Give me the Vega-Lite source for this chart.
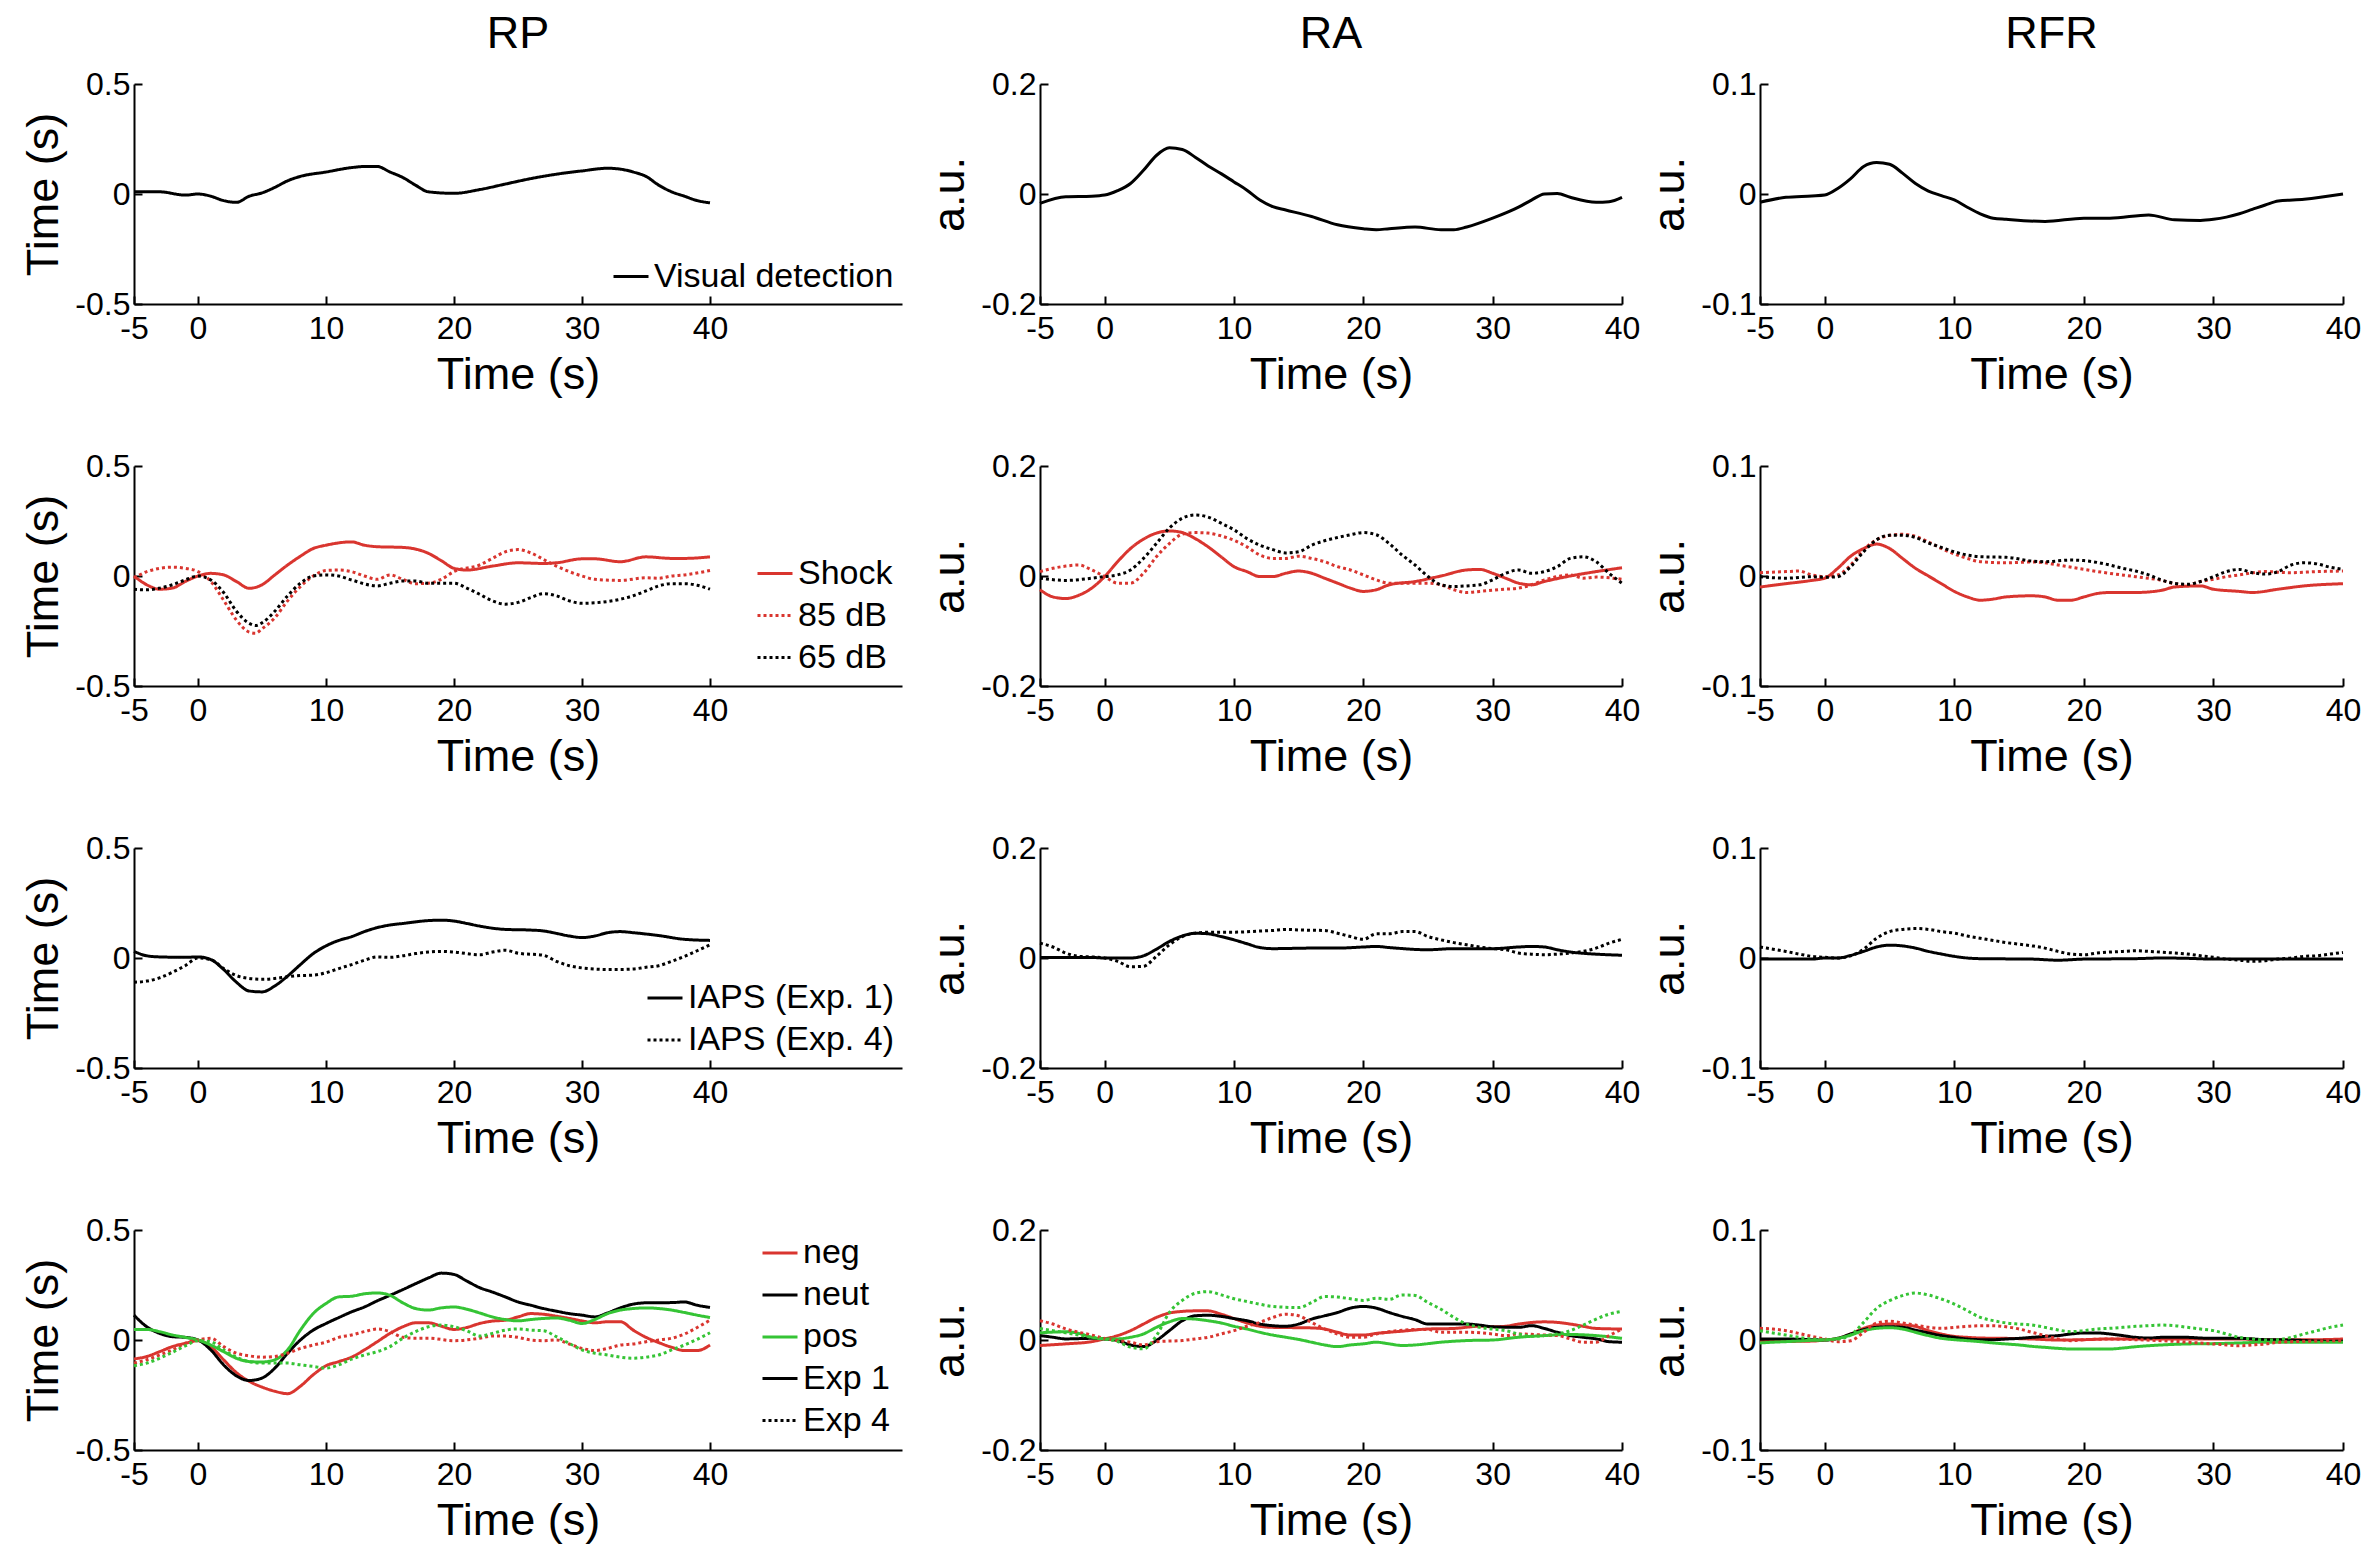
{
"$schema":"https://vega.github.io/schema/vega-lite/v6.json",
"background":"white",
"padding":{"left":21,"top":12,"right":5,"bottom":5},
"config":{
"font":"Liberation Sans",
"view":{"stroke":null},
"title":{"fontSize":45,"fontWeight":"normal","color":"black","font":"Liberation Sans","anchor":"middle","frame":"group","offset":11},
"axis":{"grid":false,"domainColor":"black","domainWidth":2,"tickColor":"black","tickWidth":2,"tickSize":-8,"labelFontSize":32,"labelColor":"black","labelFont":"Liberation Sans","titleFont":"Liberation Sans","titleFontSize":45,"titleFontWeight":"normal","titleColor":"black","labelPadding":12,"titlePadding":8,"labelFlush":false,"labelOverlap":false},
"axisX":{"labelPadding":17},
"legend":{"symbolType":"stroke","symbolSize":1225,"symbolStrokeWidth":3,"labelFontSize":34,"labelColor":"black","labelFont":"Liberation Sans","padding":0,"rowPadding":6,"labelOffset":4,"labelLimit":0},
"line":{"strokeWidth":3,"interpolate":"monotone"}
},
"columns":3,
"spacing":{"row":162,"column":138},
"bounds":"flush",
"resolve":{"scale":{"x":"independent","y":"independent","color":"independent","strokeDash":"independent"},"legend":{"color":"independent","strokeDash":"independent"}},
"datasets":{
"rp1":[{"s":"Visual detection","t":-5,"v":0.01},{"s":"Visual detection","t":-3,"v":0.01},{"s":"Visual detection","t":-1,"v":-0.005},{"s":"Visual detection","t":0,"v":0},{"s":"Visual detection","t":1,"v":-0.01},{"s":"Visual detection","t":2,"v":-0.03},{"s":"Visual detection","t":3,"v":-0.038},{"s":"Visual detection","t":4,"v":-0.01},{"s":"Visual detection","t":5,"v":0.005},{"s":"Visual detection","t":6,"v":0.03},{"s":"Visual detection","t":7,"v":0.06},{"s":"Visual detection","t":8,"v":0.08},{"s":"Visual detection","t":10,"v":0.1},{"s":"Visual detection","t":12,"v":0.12},{"s":"Visual detection","t":13,"v":0.125},{"s":"Visual detection","t":14,"v":0.125},{"s":"Visual detection","t":15,"v":0.1},{"s":"Visual detection","t":16,"v":0.075},{"s":"Visual detection","t":17,"v":0.04},{"s":"Visual detection","t":18,"v":0.01},{"s":"Visual detection","t":20,"v":0.003},{"s":"Visual detection","t":22,"v":0.02},{"s":"Visual detection","t":24,"v":0.045},{"s":"Visual detection","t":26,"v":0.07},{"s":"Visual detection","t":28,"v":0.09},{"s":"Visual detection","t":30,"v":0.105},{"s":"Visual detection","t":32,"v":0.117},{"s":"Visual detection","t":33,"v":0.113},{"s":"Visual detection","t":34,"v":0.1},{"s":"Visual detection","t":35,"v":0.08},{"s":"Visual detection","t":36,"v":0.04},{"s":"Visual detection","t":37,"v":0.01},{"s":"Visual detection","t":38,"v":-0.01},{"s":"Visual detection","t":39,"v":-0.03},{"s":"Visual detection","t":40,"v":-0.04}],
"ra1":[{"t":-5,"v":-0.017},{"t":-3,"v":-0.005},{"t":-1,"v":-0.004},{"t":0,"v":-0.002},{"t":1,"v":0.006},{"t":2,"v":0.019},{"t":3,"v":0.043},{"t":4,"v":0.07},{"t":5,"v":0.084},{"t":6,"v":0.081},{"t":7,"v":0.067},{"t":8,"v":0.051},{"t":9,"v":0.037},{"t":10,"v":0.022},{"t":11,"v":0.007},{"t":12,"v":-0.011},{"t":13,"v":-0.023},{"t":14,"v":-0.029},{"t":16,"v":-0.041},{"t":18,"v":-0.056},{"t":20,"v":-0.063},{"t":21,"v":-0.065},{"t":22,"v":-0.063},{"t":24,"v":-0.06},{"t":26,"v":-0.065},{"t":27,"v":-0.065},{"t":28,"v":-0.06},{"t":30,"v":-0.044},{"t":32,"v":-0.024},{"t":33,"v":-0.011},{"t":34,"v":0},{"t":35,"v":0.001},{"t":36,"v":-0.006},{"t":38,"v":-0.015},{"t":39,"v":-0.014},{"t":40,"v":-0.006}],
"rfr1":[{"t":-5,"v":-0.0075},{"t":-3,"v":-0.003},{"t":-1,"v":-0.0018},{"t":0,"v":-0.001},{"t":1,"v":0.005},{"t":2,"v":0.014},{"t":3,"v":0.025},{"t":4,"v":0.0286},{"t":5,"v":0.027},{"t":6,"v":0.019},{"t":7,"v":0.0096},{"t":8,"v":0.0027},{"t":9,"v":-0.0015},{"t":10,"v":-0.0054},{"t":11,"v":-0.012},{"t":12,"v":-0.018},{"t":13,"v":-0.022},{"t":14,"v":-0.023},{"t":17,"v":-0.025},{"t":20,"v":-0.022},{"t":22,"v":-0.022},{"t":25,"v":-0.019},{"t":27,"v":-0.0235},{"t":29,"v":-0.024},{"t":30,"v":-0.023},{"t":31,"v":-0.021},{"t":32,"v":-0.018},{"t":33,"v":-0.014},{"t":34,"v":-0.01},{"t":35,"v":-0.0063},{"t":37,"v":-0.0048},{"t":40,"v":0}],
"rp2":[
{"s":"Shock","t":-5,"v":0},{"s":"Shock","t":-4,"v":-0.04},{"s":"Shock","t":-3,"v":-0.06},{"s":"Shock","t":-2,"v":-0.055},{"s":"Shock","t":-1,"v":-0.025},{"s":"Shock","t":0,"v":0},{"s":"Shock","t":1,"v":0.012},{"s":"Shock","t":2,"v":0.005},{"s":"Shock","t":3,"v":-0.025},{"s":"Shock","t":4,"v":-0.056},{"s":"Shock","t":5,"v":-0.04},{"s":"Shock","t":6,"v":0.005},{"s":"Shock","t":7,"v":0.05},{"s":"Shock","t":8,"v":0.09},{"s":"Shock","t":9,"v":0.125},{"s":"Shock","t":10,"v":0.14},{"s":"Shock","t":12,"v":0.155},{"s":"Shock","t":13,"v":0.14},{"s":"Shock","t":14,"v":0.133},{"s":"Shock","t":16,"v":0.13},{"s":"Shock","t":18,"v":0.103},{"s":"Shock","t":19,"v":0.07},{"s":"Shock","t":20,"v":0.035},{"s":"Shock","t":21,"v":0.027},{"s":"Shock","t":23,"v":0.045},{"s":"Shock","t":25,"v":0.06},{"s":"Shock","t":27,"v":0.057},{"s":"Shock","t":28,"v":0.06},{"s":"Shock","t":30,"v":0.078},{"s":"Shock","t":31,"v":0.078},{"s":"Shock","t":33,"v":0.065},{"s":"Shock","t":35,"v":0.087},{"s":"Shock","t":37,"v":0.08},{"s":"Shock","t":38,"v":0.08},{"s":"Shock","t":40,"v":0.087},
{"s":"85 dB","t":-5,"v":-0.01},{"s":"85 dB","t":-4,"v":0.02},{"s":"85 dB","t":-2,"v":0.04},{"s":"85 dB","t":-1,"v":0.035},{"s":"85 dB","t":0,"v":0.02},{"s":"85 dB","t":1,"v":-0.025},{"s":"85 dB","t":2,"v":-0.11},{"s":"85 dB","t":3,"v":-0.2},{"s":"85 dB","t":4,"v":-0.255},{"s":"85 dB","t":4.5,"v":-0.26},{"s":"85 dB","t":5,"v":-0.24},{"s":"85 dB","t":6,"v":-0.19},{"s":"85 dB","t":7,"v":-0.113},{"s":"85 dB","t":8,"v":-0.048},{"s":"85 dB","t":9,"v":0},{"s":"85 dB","t":10,"v":0.025},{"s":"85 dB","t":11,"v":0.027},{"s":"85 dB","t":12,"v":0.02},{"s":"85 dB","t":13,"v":0},{"s":"85 dB","t":14,"v":-0.015},{"s":"85 dB","t":15,"v":0.005},{"s":"85 dB","t":16,"v":-0.015},{"s":"85 dB","t":17,"v":-0.035},{"s":"85 dB","t":18,"v":-0.033},{"s":"85 dB","t":19,"v":-0.015},{"s":"85 dB","t":20,"v":0.02},{"s":"85 dB","t":22,"v":0.05},{"s":"85 dB","t":23,"v":0.08},{"s":"85 dB","t":24,"v":0.11},{"s":"85 dB","t":25,"v":0.12},{"s":"85 dB","t":26,"v":0.105},{"s":"85 dB","t":27,"v":0.075},{"s":"85 dB","t":28,"v":0.045},{"s":"85 dB","t":29,"v":0.02},{"s":"85 dB","t":30,"v":0},{"s":"85 dB","t":31,"v":-0.015},{"s":"85 dB","t":33,"v":-0.02},{"s":"85 dB","t":35,"v":-0.008},{"s":"85 dB","t":36,"v":-0.01},{"s":"85 dB","t":37,"v":0},{"s":"85 dB","t":38,"v":0.005},{"s":"85 dB","t":40,"v":0.025},
{"s":"65 dB","t":-5,"v":-0.06},{"s":"65 dB","t":-4,"v":-0.063},{"s":"65 dB","t":-3,"v":-0.055},{"s":"65 dB","t":-2,"v":-0.04},{"s":"65 dB","t":-1,"v":-0.018},{"s":"65 dB","t":0,"v":0},{"s":"65 dB","t":1,"v":-0.018},{"s":"65 dB","t":2,"v":-0.075},{"s":"65 dB","t":3,"v":-0.16},{"s":"65 dB","t":4,"v":-0.215},{"s":"65 dB","t":4.5,"v":-0.225},{"s":"65 dB","t":5,"v":-0.213},{"s":"65 dB","t":6,"v":-0.16},{"s":"65 dB","t":7,"v":-0.09},{"s":"65 dB","t":8,"v":-0.033},{"s":"65 dB","t":9,"v":0},{"s":"65 dB","t":10,"v":0.005},{"s":"65 dB","t":11,"v":0},{"s":"65 dB","t":12,"v":-0.018},{"s":"65 dB","t":14,"v":-0.045},{"s":"65 dB","t":15,"v":-0.033},{"s":"65 dB","t":16,"v":-0.023},{"s":"65 dB","t":17,"v":-0.023},{"s":"65 dB","t":18,"v":-0.033},{"s":"65 dB","t":20,"v":-0.033},{"s":"65 dB","t":21,"v":-0.055},{"s":"65 dB","t":22,"v":-0.083},{"s":"65 dB","t":23,"v":-0.113},{"s":"65 dB","t":24,"v":-0.128},{"s":"65 dB","t":25,"v":-0.12},{"s":"65 dB","t":26,"v":-0.098},{"s":"65 dB","t":27,"v":-0.08},{"s":"65 dB","t":28,"v":-0.09},{"s":"65 dB","t":29,"v":-0.113},{"s":"65 dB","t":30,"v":-0.124},{"s":"65 dB","t":32,"v":-0.116},{"s":"65 dB","t":34,"v":-0.09},{"s":"65 dB","t":35,"v":-0.068},{"s":"65 dB","t":36,"v":-0.045},{"s":"65 dB","t":37,"v":-0.035},{"s":"65 dB","t":38,"v":-0.035},{"s":"65 dB","t":39,"v":-0.042},{"s":"65 dB","t":40,"v":-0.06}],
"ra2":[
{"s":"Shock","t":-5,"v":-0.025},{"s":"Shock","t":-4,"v":-0.038},{"s":"Shock","t":-3,"v":-0.041},{"s":"Shock","t":-2,"v":-0.035},{"s":"Shock","t":-1,"v":-0.022},{"s":"Shock","t":0,"v":-0.001},{"s":"Shock","t":1,"v":0.026},{"s":"Shock","t":2,"v":0.05},{"s":"Shock","t":3,"v":0.067},{"s":"Shock","t":4,"v":0.078},{"s":"Shock","t":5,"v":0.082},{"s":"Shock","t":6,"v":0.079},{"s":"Shock","t":7,"v":0.068},{"s":"Shock","t":8,"v":0.053},{"s":"Shock","t":9,"v":0.035},{"s":"Shock","t":10,"v":0.017},{"s":"Shock","t":11,"v":0.008},{"s":"Shock","t":12,"v":-0.001},{"s":"Shock","t":13,"v":-0.001},{"s":"Shock","t":14,"v":0.005},{"s":"Shock","t":15,"v":0.009},{"s":"Shock","t":16,"v":0.005},{"s":"Shock","t":17,"v":-0.004},{"s":"Shock","t":18,"v":-0.013},{"s":"Shock","t":19,"v":-0.022},{"s":"Shock","t":20,"v":-0.028},{"s":"Shock","t":21,"v":-0.025},{"s":"Shock","t":22,"v":-0.016},{"s":"Shock","t":24,"v":-0.01},{"s":"Shock","t":26,"v":0},{"s":"Shock","t":28,"v":0.011},{"s":"Shock","t":29,"v":0.012},{"s":"Shock","t":30,"v":0.005},{"s":"Shock","t":31,"v":-0.004},{"s":"Shock","t":32,"v":-0.013},{"s":"Shock","t":33,"v":-0.016},{"s":"Shock","t":34,"v":-0.01},{"s":"Shock","t":36,"v":0},{"s":"Shock","t":38,"v":0.008},{"s":"Shock","t":40,"v":0.015},
{"s":"85 dB","t":-5,"v":0.008},{"s":"85 dB","t":-4,"v":0.014},{"s":"85 dB","t":-3,"v":0.018},{"s":"85 dB","t":-2,"v":0.02},{"s":"85 dB","t":-1,"v":0.011},{"s":"85 dB","t":0,"v":-0.001},{"s":"85 dB","t":1,"v":-0.013},{"s":"85 dB","t":2,"v":-0.013},{"s":"85 dB","t":3,"v":0.005},{"s":"85 dB","t":4,"v":0.035},{"s":"85 dB","t":5,"v":0.059},{"s":"85 dB","t":6,"v":0.076},{"s":"85 dB","t":7,"v":0.079},{"s":"85 dB","t":8,"v":0.078},{"s":"85 dB","t":9,"v":0.073},{"s":"85 dB","t":10,"v":0.065},{"s":"85 dB","t":11,"v":0.053},{"s":"85 dB","t":12,"v":0.038},{"s":"85 dB","t":13,"v":0.032},{"s":"85 dB","t":14,"v":0.032},{"s":"85 dB","t":15,"v":0.036},{"s":"85 dB","t":16,"v":0.032},{"s":"85 dB","t":17,"v":0.026},{"s":"85 dB","t":18,"v":0.017},{"s":"85 dB","t":19,"v":0.011},{"s":"85 dB","t":20,"v":0.002},{"s":"85 dB","t":21,"v":-0.007},{"s":"85 dB","t":22,"v":-0.013},{"s":"85 dB","t":25,"v":-0.013},{"s":"85 dB","t":26,"v":-0.016},{"s":"85 dB","t":27,"v":-0.025},{"s":"85 dB","t":28,"v":-0.03},{"s":"85 dB","t":29,"v":-0.028},{"s":"85 dB","t":31,"v":-0.024},{"s":"85 dB","t":32,"v":-0.022},{"s":"85 dB","t":33,"v":-0.016},{"s":"85 dB","t":34,"v":-0.007},{"s":"85 dB","t":35,"v":-0.001},{"s":"85 dB","t":36,"v":0.002},{"s":"85 dB","t":37,"v":-0.004},{"s":"85 dB","t":38,"v":-0.002},{"s":"85 dB","t":40,"v":-0.006},
{"s":"65 dB","t":-5,"v":-0.004},{"s":"65 dB","t":-3,"v":-0.008},{"s":"65 dB","t":-1,"v":-0.004},{"s":"65 dB","t":0,"v":-0.001},{"s":"65 dB","t":1,"v":0.002},{"s":"65 dB","t":2,"v":0.011},{"s":"65 dB","t":3,"v":0.032},{"s":"65 dB","t":4,"v":0.059},{"s":"65 dB","t":5,"v":0.087},{"s":"65 dB","t":6,"v":0.105},{"s":"65 dB","t":7,"v":0.111},{"s":"65 dB","t":8,"v":0.107},{"s":"65 dB","t":9,"v":0.096},{"s":"65 dB","t":10,"v":0.084},{"s":"65 dB","t":11,"v":0.068},{"s":"65 dB","t":12,"v":0.056},{"s":"65 dB","t":13,"v":0.048},{"s":"65 dB","t":14,"v":0.042},{"s":"65 dB","t":15,"v":0.044},{"s":"65 dB","t":16,"v":0.056},{"s":"65 dB","t":17,"v":0.064},{"s":"65 dB","t":18,"v":0.07},{"s":"65 dB","t":19,"v":0.075},{"s":"65 dB","t":20,"v":0.079},{"s":"65 dB","t":21,"v":0.075},{"s":"65 dB","t":22,"v":0.059},{"s":"65 dB","t":23,"v":0.038},{"s":"65 dB","t":24,"v":0.02},{"s":"65 dB","t":25,"v":-0.001},{"s":"65 dB","t":26,"v":-0.016},{"s":"65 dB","t":27,"v":-0.019},{"s":"65 dB","t":28,"v":-0.018},{"s":"65 dB","t":29,"v":-0.016},{"s":"65 dB","t":30,"v":-0.007},{"s":"65 dB","t":31,"v":0.005},{"s":"65 dB","t":32,"v":0.011},{"s":"65 dB","t":33,"v":0.005},{"s":"65 dB","t":34,"v":0.008},{"s":"65 dB","t":35,"v":0.017},{"s":"65 dB","t":36,"v":0.032},{"s":"65 dB","t":37,"v":0.035},{"s":"65 dB","t":38,"v":0.026},{"s":"65 dB","t":39,"v":0.005},{"s":"65 dB","t":40,"v":-0.013}],
"rfr2":[
{"s":"Shock","t":-5,"v":-0.01},{"s":"Shock","t":-3,"v":-0.007},{"s":"Shock","t":-1,"v":-0.004},{"s":"Shock","t":0,"v":-0.002},{"s":"Shock","t":1,"v":0.007},{"s":"Shock","t":2,"v":0.018},{"s":"Shock","t":3,"v":0.025},{"s":"Shock","t":4,"v":0.029},{"s":"Shock","t":5,"v":0.025},{"s":"Shock","t":6,"v":0.016},{"s":"Shock","t":7,"v":0.007},{"s":"Shock","t":8,"v":0},{"s":"Shock","t":9,"v":-0.007},{"s":"Shock","t":10,"v":-0.014},{"s":"Shock","t":11,"v":-0.019},{"s":"Shock","t":12,"v":-0.022},{"s":"Shock","t":13,"v":-0.021},{"s":"Shock","t":14,"v":-0.019},{"s":"Shock","t":16,"v":-0.018},{"s":"Shock","t":17,"v":-0.019},{"s":"Shock","t":18,"v":-0.022},{"s":"Shock","t":19,"v":-0.022},{"s":"Shock","t":20,"v":-0.019},{"s":"Shock","t":21,"v":-0.016},{"s":"Shock","t":22,"v":-0.015},{"s":"Shock","t":24,"v":-0.015},{"s":"Shock","t":26,"v":-0.013},{"s":"Shock","t":27,"v":-0.01},{"s":"Shock","t":29,"v":-0.009},{"s":"Shock","t":30,"v":-0.012},{"s":"Shock","t":32,"v":-0.014},{"s":"Shock","t":33,"v":-0.015},{"s":"Shock","t":35,"v":-0.012},{"s":"Shock","t":37,"v":-0.009},{"s":"Shock","t":40,"v":-0.007},
{"s":"85 dB","t":-5,"v":0.003},{"s":"85 dB","t":-3,"v":0.004},{"s":"85 dB","t":-2,"v":0.0045},{"s":"85 dB","t":-1,"v":0.001},{"s":"85 dB","t":0,"v":-0.0006},{"s":"85 dB","t":1,"v":0.001},{"s":"85 dB","t":2,"v":0.01},{"s":"85 dB","t":3,"v":0.024},{"s":"85 dB","t":4,"v":0.033},{"s":"85 dB","t":5,"v":0.037},{"s":"85 dB","t":6,"v":0.038},{"s":"85 dB","t":7,"v":0.036},{"s":"85 dB","t":8,"v":0.031},{"s":"85 dB","t":9,"v":0.025},{"s":"85 dB","t":10,"v":0.02},{"s":"85 dB","t":11,"v":0.016},{"s":"85 dB","t":12,"v":0.013},{"s":"85 dB","t":14,"v":0.012},{"s":"85 dB","t":16,"v":0.0127},{"s":"85 dB","t":17,"v":0.012},{"s":"85 dB","t":18,"v":0.01},{"s":"85 dB","t":20,"v":0.006},{"s":"85 dB","t":22,"v":0.0024},{"s":"85 dB","t":24,"v":-0.0006},{"s":"85 dB","t":26,"v":-0.004},{"s":"85 dB","t":27,"v":-0.007},{"s":"85 dB","t":28,"v":-0.008},{"s":"85 dB","t":29,"v":-0.005},{"s":"85 dB","t":30,"v":-0.003},{"s":"85 dB","t":31,"v":-0.0006},{"s":"85 dB","t":32,"v":0.001},{"s":"85 dB","t":34,"v":0.004},{"s":"85 dB","t":36,"v":0.003},{"s":"85 dB","t":38,"v":0.004},{"s":"85 dB","t":40,"v":0.0045},
{"s":"65 dB","t":-5,"v":-0.0006},{"s":"65 dB","t":-3,"v":-0.002},{"s":"65 dB","t":-1,"v":-0.0006},{"s":"65 dB","t":0,"v":-0.0012},{"s":"65 dB","t":1,"v":-0.0006},{"s":"65 dB","t":2,"v":0.0085},{"s":"65 dB","t":3,"v":0.022},{"s":"65 dB","t":4,"v":0.033},{"s":"65 dB","t":5,"v":0.037},{"s":"65 dB","t":6,"v":0.037},{"s":"65 dB","t":7,"v":0.035},{"s":"65 dB","t":8,"v":0.03},{"s":"65 dB","t":9,"v":0.026},{"s":"65 dB","t":10,"v":0.022},{"s":"65 dB","t":11,"v":0.019},{"s":"65 dB","t":12,"v":0.0175},{"s":"65 dB","t":14,"v":0.017},{"s":"65 dB","t":16,"v":0.0136},{"s":"65 dB","t":17,"v":0.013},{"s":"65 dB","t":19,"v":0.0145},{"s":"65 dB","t":20,"v":0.014},{"s":"65 dB","t":21,"v":0.0124},{"s":"65 dB","t":22,"v":0.01},{"s":"65 dB","t":23,"v":0.007},{"s":"65 dB","t":24,"v":0.0045},{"s":"65 dB","t":25,"v":0.001},{"s":"65 dB","t":26,"v":-0.0036},{"s":"65 dB","t":27,"v":-0.0067},{"s":"65 dB","t":28,"v":-0.0076},{"s":"65 dB","t":29,"v":-0.005},{"s":"65 dB","t":30,"v":-0.0006},{"s":"65 dB","t":31,"v":0.004},{"s":"65 dB","t":32,"v":0.006},{"s":"65 dB","t":33,"v":0.003},{"s":"65 dB","t":34,"v":0.0018},{"s":"65 dB","t":35,"v":0.004},{"s":"65 dB","t":36,"v":0.01},{"s":"65 dB","t":37,"v":0.012},{"s":"65 dB","t":38,"v":0.011},{"s":"65 dB","t":39,"v":0.008},{"s":"65 dB","t":40,"v":0.006}],
"rp3":[
{"s":"IAPS (Exp. 1)","t":-5,"v":0.03},{"s":"IAPS (Exp. 1)","t":-4,"v":0.01},{"s":"IAPS (Exp. 1)","t":-3,"v":0.005},{"s":"IAPS (Exp. 1)","t":-1,"v":0.003},{"s":"IAPS (Exp. 1)","t":0,"v":0.005},{"s":"IAPS (Exp. 1)","t":1,"v":-0.007},{"s":"IAPS (Exp. 1)","t":2,"v":-0.052},{"s":"IAPS (Exp. 1)","t":3,"v":-0.11},{"s":"IAPS (Exp. 1)","t":4,"v":-0.15},{"s":"IAPS (Exp. 1)","t":5,"v":-0.154},{"s":"IAPS (Exp. 1)","t":6,"v":-0.127},{"s":"IAPS (Exp. 1)","t":7,"v":-0.082},{"s":"IAPS (Exp. 1)","t":8,"v":-0.03},{"s":"IAPS (Exp. 1)","t":9,"v":0.02},{"s":"IAPS (Exp. 1)","t":10,"v":0.055},{"s":"IAPS (Exp. 1)","t":11,"v":0.08},{"s":"IAPS (Exp. 1)","t":12,"v":0.097},{"s":"IAPS (Exp. 1)","t":13,"v":0.12},{"s":"IAPS (Exp. 1)","t":14,"v":0.138},{"s":"IAPS (Exp. 1)","t":15,"v":0.15},{"s":"IAPS (Exp. 1)","t":16,"v":0.157},{"s":"IAPS (Exp. 1)","t":18,"v":0.17},{"s":"IAPS (Exp. 1)","t":19,"v":0.172},{"s":"IAPS (Exp. 1)","t":20,"v":0.168},{"s":"IAPS (Exp. 1)","t":21,"v":0.157},{"s":"IAPS (Exp. 1)","t":22,"v":0.145},{"s":"IAPS (Exp. 1)","t":24,"v":0.13},{"s":"IAPS (Exp. 1)","t":26,"v":0.127},{"s":"IAPS (Exp. 1)","t":27,"v":0.123},{"s":"IAPS (Exp. 1)","t":28,"v":0.112},{"s":"IAPS (Exp. 1)","t":29,"v":0.1},{"s":"IAPS (Exp. 1)","t":30,"v":0.093},{"s":"IAPS (Exp. 1)","t":31,"v":0.1},{"s":"IAPS (Exp. 1)","t":32,"v":0.115},{"s":"IAPS (Exp. 1)","t":33,"v":0.12},{"s":"IAPS (Exp. 1)","t":34,"v":0.115},{"s":"IAPS (Exp. 1)","t":36,"v":0.102},{"s":"IAPS (Exp. 1)","t":38,"v":0.085},{"s":"IAPS (Exp. 1)","t":40,"v":0.08},
{"s":"IAPS (Exp. 4)","t":-5,"v":-0.11},{"s":"IAPS (Exp. 4)","t":-4,"v":-0.105},{"s":"IAPS (Exp. 4)","t":-3,"v":-0.09},{"s":"IAPS (Exp. 4)","t":-2,"v":-0.065},{"s":"IAPS (Exp. 4)","t":-1,"v":-0.035},{"s":"IAPS (Exp. 4)","t":0,"v":0},{"s":"IAPS (Exp. 4)","t":1,"v":-0.007},{"s":"IAPS (Exp. 4)","t":2,"v":-0.048},{"s":"IAPS (Exp. 4)","t":3,"v":-0.08},{"s":"IAPS (Exp. 4)","t":4,"v":-0.093},{"s":"IAPS (Exp. 4)","t":5,"v":-0.097},{"s":"IAPS (Exp. 4)","t":6,"v":-0.093},{"s":"IAPS (Exp. 4)","t":7,"v":-0.085},{"s":"IAPS (Exp. 4)","t":8,"v":-0.08},{"s":"IAPS (Exp. 4)","t":9,"v":-0.078},{"s":"IAPS (Exp. 4)","t":10,"v":-0.067},{"s":"IAPS (Exp. 4)","t":11,"v":-0.048},{"s":"IAPS (Exp. 4)","t":12,"v":-0.03},{"s":"IAPS (Exp. 4)","t":13,"v":-0.01},{"s":"IAPS (Exp. 4)","t":14,"v":0.005},{"s":"IAPS (Exp. 4)","t":15,"v":0.003},{"s":"IAPS (Exp. 4)","t":16,"v":0.01},{"s":"IAPS (Exp. 4)","t":17,"v":0.02},{"s":"IAPS (Exp. 4)","t":18,"v":0.027},{"s":"IAPS (Exp. 4)","t":19,"v":0.03},{"s":"IAPS (Exp. 4)","t":20,"v":0.027},{"s":"IAPS (Exp. 4)","t":22,"v":0.015},{"s":"IAPS (Exp. 4)","t":23,"v":0.027},{"s":"IAPS (Exp. 4)","t":24,"v":0.035},{"s":"IAPS (Exp. 4)","t":25,"v":0.022},{"s":"IAPS (Exp. 4)","t":27,"v":0.012},{"s":"IAPS (Exp. 4)","t":28,"v":-0.015},{"s":"IAPS (Exp. 4)","t":29,"v":-0.035},{"s":"IAPS (Exp. 4)","t":30,"v":-0.045},{"s":"IAPS (Exp. 4)","t":32,"v":-0.052},{"s":"IAPS (Exp. 4)","t":33,"v":-0.052},{"s":"IAPS (Exp. 4)","t":34,"v":-0.05},{"s":"IAPS (Exp. 4)","t":35,"v":-0.042},{"s":"IAPS (Exp. 4)","t":36,"v":-0.035},{"s":"IAPS (Exp. 4)","t":37,"v":-0.015},{"s":"IAPS (Exp. 4)","t":38,"v":0.007},{"s":"IAPS (Exp. 4)","t":39,"v":0.033},{"s":"IAPS (Exp. 4)","t":40,"v":0.06}],
"ra3":[
{"s":"IAPS (Exp. 1)","t":-5,"v":0.001},{"s":"IAPS (Exp. 1)","t":-1,"v":0.001},{"s":"IAPS (Exp. 1)","t":0,"v":0},{"s":"IAPS (Exp. 1)","t":2,"v":0},{"s":"IAPS (Exp. 1)","t":3,"v":0.004},{"s":"IAPS (Exp. 1)","t":4,"v":0.016},{"s":"IAPS (Exp. 1)","t":5,"v":0.03},{"s":"IAPS (Exp. 1)","t":6,"v":0.04},{"s":"IAPS (Exp. 1)","t":7,"v":0.045},{"s":"IAPS (Exp. 1)","t":8,"v":0.044},{"s":"IAPS (Exp. 1)","t":9,"v":0.039},{"s":"IAPS (Exp. 1)","t":10,"v":0.033},{"s":"IAPS (Exp. 1)","t":11,"v":0.026},{"s":"IAPS (Exp. 1)","t":12,"v":0.019},{"s":"IAPS (Exp. 1)","t":13,"v":0.017},{"s":"IAPS (Exp. 1)","t":16,"v":0.018},{"s":"IAPS (Exp. 1)","t":18,"v":0.018},{"s":"IAPS (Exp. 1)","t":20,"v":0.02},{"s":"IAPS (Exp. 1)","t":21,"v":0.021},{"s":"IAPS (Exp. 1)","t":22,"v":0.019},{"s":"IAPS (Exp. 1)","t":25,"v":0.015},{"s":"IAPS (Exp. 1)","t":27,"v":0.017},{"s":"IAPS (Exp. 1)","t":30,"v":0.017},{"s":"IAPS (Exp. 1)","t":32,"v":0.02},{"s":"IAPS (Exp. 1)","t":33,"v":0.021},{"s":"IAPS (Exp. 1)","t":34,"v":0.02},{"s":"IAPS (Exp. 1)","t":35,"v":0.015},{"s":"IAPS (Exp. 1)","t":36,"v":0.011},{"s":"IAPS (Exp. 1)","t":38,"v":0.007},{"s":"IAPS (Exp. 1)","t":40,"v":0.005},
{"s":"IAPS (Exp. 4)","t":-5,"v":0.027},{"s":"IAPS (Exp. 4)","t":-4,"v":0.02},{"s":"IAPS (Exp. 4)","t":-3,"v":0.009},{"s":"IAPS (Exp. 4)","t":-2,"v":0.003},{"s":"IAPS (Exp. 4)","t":-1,"v":0.002},{"s":"IAPS (Exp. 4)","t":0,"v":0},{"s":"IAPS (Exp. 4)","t":1,"v":-0.006},{"s":"IAPS (Exp. 4)","t":2,"v":-0.016},{"s":"IAPS (Exp. 4)","t":3,"v":-0.015},{"s":"IAPS (Exp. 4)","t":4,"v":0.003},{"s":"IAPS (Exp. 4)","t":5,"v":0.024},{"s":"IAPS (Exp. 4)","t":6,"v":0.039},{"s":"IAPS (Exp. 4)","t":7,"v":0.045},{"s":"IAPS (Exp. 4)","t":8,"v":0.047},{"s":"IAPS (Exp. 4)","t":10,"v":0.047},{"s":"IAPS (Exp. 4)","t":12,"v":0.049},{"s":"IAPS (Exp. 4)","t":13,"v":0.05},{"s":"IAPS (Exp. 4)","t":14,"v":0.052},{"s":"IAPS (Exp. 4)","t":15,"v":0.051},{"s":"IAPS (Exp. 4)","t":17,"v":0.05},{"s":"IAPS (Exp. 4)","t":18,"v":0.045},{"s":"IAPS (Exp. 4)","t":19,"v":0.039},{"s":"IAPS (Exp. 4)","t":20,"v":0.034},{"s":"IAPS (Exp. 4)","t":21,"v":0.044},{"s":"IAPS (Exp. 4)","t":22,"v":0.044},{"s":"IAPS (Exp. 4)","t":23,"v":0.048},{"s":"IAPS (Exp. 4)","t":24,"v":0.048},{"s":"IAPS (Exp. 4)","t":25,"v":0.039},{"s":"IAPS (Exp. 4)","t":26,"v":0.033},{"s":"IAPS (Exp. 4)","t":27,"v":0.028},{"s":"IAPS (Exp. 4)","t":28,"v":0.024},{"s":"IAPS (Exp. 4)","t":29,"v":0.02},{"s":"IAPS (Exp. 4)","t":30,"v":0.017},{"s":"IAPS (Exp. 4)","t":31,"v":0.015},{"s":"IAPS (Exp. 4)","t":32,"v":0.009},{"s":"IAPS (Exp. 4)","t":33,"v":0.007},{"s":"IAPS (Exp. 4)","t":34,"v":0.006},{"s":"IAPS (Exp. 4)","t":35,"v":0.007},{"s":"IAPS (Exp. 4)","t":36,"v":0.009},{"s":"IAPS (Exp. 4)","t":37,"v":0.012},{"s":"IAPS (Exp. 4)","t":38,"v":0.018},{"s":"IAPS (Exp. 4)","t":39,"v":0.027},{"s":"IAPS (Exp. 4)","t":40,"v":0.034}],
"rfr3":[
{"s":"IAPS (Exp. 1)","t":-5,"v":-0.001},{"s":"IAPS (Exp. 1)","t":-1,"v":-0.001},{"s":"IAPS (Exp. 1)","t":0,"v":0},{"s":"IAPS (Exp. 1)","t":1,"v":0},{"s":"IAPS (Exp. 1)","t":2,"v":0.0024},{"s":"IAPS (Exp. 1)","t":3,"v":0.006},{"s":"IAPS (Exp. 1)","t":4,"v":0.01},{"s":"IAPS (Exp. 1)","t":5,"v":0.0117},{"s":"IAPS (Exp. 1)","t":6,"v":0.011},{"s":"IAPS (Exp. 1)","t":7,"v":0.009},{"s":"IAPS (Exp. 1)","t":8,"v":0.006},{"s":"IAPS (Exp. 1)","t":9,"v":0.0036},{"s":"IAPS (Exp. 1)","t":10,"v":0.0015},{"s":"IAPS (Exp. 1)","t":11,"v":0},{"s":"IAPS (Exp. 1)","t":12,"v":-0.0006},{"s":"IAPS (Exp. 1)","t":16,"v":-0.001},{"s":"IAPS (Exp. 1)","t":18,"v":-0.002},{"s":"IAPS (Exp. 1)","t":20,"v":-0.001},{"s":"IAPS (Exp. 1)","t":24,"v":-0.0006},{"s":"IAPS (Exp. 1)","t":26,"v":0},{"s":"IAPS (Exp. 1)","t":28,"v":-0.0003},{"s":"IAPS (Exp. 1)","t":30,"v":-0.001},{"s":"IAPS (Exp. 1)","t":40,"v":-0.001},
{"s":"IAPS (Exp. 4)","t":-5,"v":0.01},{"s":"IAPS (Exp. 4)","t":-4,"v":0.008},{"s":"IAPS (Exp. 4)","t":-3,"v":0.006},{"s":"IAPS (Exp. 4)","t":-2,"v":0.0036},{"s":"IAPS (Exp. 4)","t":-1,"v":0.0015},{"s":"IAPS (Exp. 4)","t":0,"v":0.0006},{"s":"IAPS (Exp. 4)","t":1,"v":0},{"s":"IAPS (Exp. 4)","t":2,"v":0.002},{"s":"IAPS (Exp. 4)","t":3,"v":0.008},{"s":"IAPS (Exp. 4)","t":4,"v":0.018},{"s":"IAPS (Exp. 4)","t":5,"v":0.024},{"s":"IAPS (Exp. 4)","t":6,"v":0.026},{"s":"IAPS (Exp. 4)","t":7,"v":0.0268},{"s":"IAPS (Exp. 4)","t":8,"v":0.026},{"s":"IAPS (Exp. 4)","t":9,"v":0.024},{"s":"IAPS (Exp. 4)","t":10,"v":0.0226},{"s":"IAPS (Exp. 4)","t":11,"v":0.02},{"s":"IAPS (Exp. 4)","t":12,"v":0.018},{"s":"IAPS (Exp. 4)","t":13,"v":0.016},{"s":"IAPS (Exp. 4)","t":14,"v":0.014},{"s":"IAPS (Exp. 4)","t":15,"v":0.0126},{"s":"IAPS (Exp. 4)","t":16,"v":0.011},{"s":"IAPS (Exp. 4)","t":17,"v":0.009},{"s":"IAPS (Exp. 4)","t":18,"v":0.006},{"s":"IAPS (Exp. 4)","t":19,"v":0.0036},{"s":"IAPS (Exp. 4)","t":20,"v":0.003},{"s":"IAPS (Exp. 4)","t":21,"v":0.0045},{"s":"IAPS (Exp. 4)","t":23,"v":0.006},{"s":"IAPS (Exp. 4)","t":24,"v":0.0066},{"s":"IAPS (Exp. 4)","t":25,"v":0.006},{"s":"IAPS (Exp. 4)","t":27,"v":0.0045},{"s":"IAPS (Exp. 4)","t":28,"v":0.0036},{"s":"IAPS (Exp. 4)","t":29,"v":0.002},{"s":"IAPS (Exp. 4)","t":30,"v":0.0006},{"s":"IAPS (Exp. 4)","t":31,"v":-0.001},{"s":"IAPS (Exp. 4)","t":32,"v":-0.002},{"s":"IAPS (Exp. 4)","t":33,"v":-0.003},{"s":"IAPS (Exp. 4)","t":34,"v":-0.0024},{"s":"IAPS (Exp. 4)","t":35,"v":-0.001},{"s":"IAPS (Exp. 4)","t":36,"v":0},{"s":"IAPS (Exp. 4)","t":37,"v":0.0015},{"s":"IAPS (Exp. 4)","t":38,"v":0.002},{"s":"IAPS (Exp. 4)","t":39,"v":0.0036},{"s":"IAPS (Exp. 4)","t":40,"v":0.005}],
"rp4":[
{"c":"neg","e":"Exp 1","t":-5,"v":-0.086},{"c":"neg","e":"Exp 1","t":-4,"v":-0.075},{"c":"neg","e":"Exp 1","t":-3,"v":-0.053},{"c":"neg","e":"Exp 1","t":-2,"v":-0.03},{"c":"neg","e":"Exp 1","t":-1,"v":-0.015},{"c":"neg","e":"Exp 1","t":0,"v":-0.003},{"c":"neg","e":"Exp 1","t":1,"v":-0.03},{"c":"neg","e":"Exp 1","t":2,"v":-0.09},{"c":"neg","e":"Exp 1","t":3,"v":-0.148},{"c":"neg","e":"Exp 1","t":4,"v":-0.188},{"c":"neg","e":"Exp 1","t":5,"v":-0.214},{"c":"neg","e":"Exp 1","t":6,"v":-0.233},{"c":"neg","e":"Exp 1","t":7,"v":-0.244},{"c":"neg","e":"Exp 1","t":8,"v":-0.21},{"c":"neg","e":"Exp 1","t":9,"v":-0.158},{"c":"neg","e":"Exp 1","t":10,"v":-0.117},{"c":"neg","e":"Exp 1","t":11,"v":-0.098},{"c":"neg","e":"Exp 1","t":12,"v":-0.078},{"c":"neg","e":"Exp 1","t":13,"v":-0.045},{"c":"neg","e":"Exp 1","t":14,"v":-0.008},{"c":"neg","e":"Exp 1","t":15,"v":0.03},{"c":"neg","e":"Exp 1","t":16,"v":0.06},{"c":"neg","e":"Exp 1","t":17,"v":0.078},{"c":"neg","e":"Exp 1","t":18,"v":0.078},{"c":"neg","e":"Exp 1","t":19,"v":0.063},{"c":"neg","e":"Exp 1","t":20,"v":0.048},{"c":"neg","e":"Exp 1","t":21,"v":0.057},{"c":"neg","e":"Exp 1","t":22,"v":0.075},{"c":"neg","e":"Exp 1","t":23,"v":0.086},{"c":"neg","e":"Exp 1","t":24,"v":0.09},{"c":"neg","e":"Exp 1","t":25,"v":0.105},{"c":"neg","e":"Exp 1","t":26,"v":0.12},{"c":"neg","e":"Exp 1","t":27,"v":0.117},{"c":"neg","e":"Exp 1","t":28,"v":0.108},{"c":"neg","e":"Exp 1","t":29,"v":0.098},{"c":"neg","e":"Exp 1","t":30,"v":0.087},{"c":"neg","e":"Exp 1","t":31,"v":0.078},{"c":"neg","e":"Exp 1","t":32,"v":0.083},{"c":"neg","e":"Exp 1","t":33,"v":0.083},{"c":"neg","e":"Exp 1","t":34,"v":0.045},{"c":"neg","e":"Exp 1","t":35,"v":0.012},{"c":"neg","e":"Exp 1","t":36,"v":-0.012},{"c":"neg","e":"Exp 1","t":37,"v":-0.033},{"c":"neg","e":"Exp 1","t":38,"v":-0.048},{"c":"neg","e":"Exp 1","t":39,"v":-0.048},{"c":"neg","e":"Exp 1","t":40,"v":-0.023},
{"c":"neut","e":"Exp 1","t":-5,"v":0.113},{"c":"neut","e":"Exp 1","t":-4,"v":0.06},{"c":"neut","e":"Exp 1","t":-3,"v":0.03},{"c":"neut","e":"Exp 1","t":-2,"v":0.015},{"c":"neut","e":"Exp 1","t":-1,"v":0.012},{"c":"neut","e":"Exp 1","t":0,"v":0},{"c":"neut","e":"Exp 1","t":1,"v":-0.045},{"c":"neut","e":"Exp 1","t":2,"v":-0.113},{"c":"neut","e":"Exp 1","t":3,"v":-0.163},{"c":"neut","e":"Exp 1","t":4,"v":-0.184},{"c":"neut","e":"Exp 1","t":5,"v":-0.173},{"c":"neut","e":"Exp 1","t":6,"v":-0.128},{"c":"neut","e":"Exp 1","t":7,"v":-0.06},{"c":"neut","e":"Exp 1","t":8,"v":0},{"c":"neut","e":"Exp 1","t":9,"v":0.045},{"c":"neut","e":"Exp 1","t":10,"v":0.075},{"c":"neut","e":"Exp 1","t":11,"v":0.102},{"c":"neut","e":"Exp 1","t":12,"v":0.128},{"c":"neut","e":"Exp 1","t":13,"v":0.15},{"c":"neut","e":"Exp 1","t":14,"v":0.178},{"c":"neut","e":"Exp 1","t":15,"v":0.203},{"c":"neut","e":"Exp 1","t":16,"v":0.229},{"c":"neut","e":"Exp 1","t":17,"v":0.256},{"c":"neut","e":"Exp 1","t":18,"v":0.282},{"c":"neut","e":"Exp 1","t":19,"v":0.304},{"c":"neut","e":"Exp 1","t":20,"v":0.298},{"c":"neut","e":"Exp 1","t":21,"v":0.268},{"c":"neut","e":"Exp 1","t":22,"v":0.238},{"c":"neut","e":"Exp 1","t":23,"v":0.218},{"c":"neut","e":"Exp 1","t":24,"v":0.196},{"c":"neut","e":"Exp 1","t":25,"v":0.173},{"c":"neut","e":"Exp 1","t":26,"v":0.158},{"c":"neut","e":"Exp 1","t":27,"v":0.143},{"c":"neut","e":"Exp 1","t":28,"v":0.131},{"c":"neut","e":"Exp 1","t":29,"v":0.12},{"c":"neut","e":"Exp 1","t":30,"v":0.113},{"c":"neut","e":"Exp 1","t":31,"v":0.105},{"c":"neut","e":"Exp 1","t":32,"v":0.123},{"c":"neut","e":"Exp 1","t":33,"v":0.146},{"c":"neut","e":"Exp 1","t":34,"v":0.163},{"c":"neut","e":"Exp 1","t":35,"v":0.169},{"c":"neut","e":"Exp 1","t":37,"v":0.17},{"c":"neut","e":"Exp 1","t":38,"v":0.173},{"c":"neut","e":"Exp 1","t":39,"v":0.158},{"c":"neut","e":"Exp 1","t":40,"v":0.148},
{"c":"pos","e":"Exp 1","t":-5,"v":0.048},{"c":"pos","e":"Exp 1","t":-4,"v":0.048},{"c":"pos","e":"Exp 1","t":-3,"v":0.038},{"c":"pos","e":"Exp 1","t":-2,"v":0.023},{"c":"pos","e":"Exp 1","t":-1,"v":0.012},{"c":"pos","e":"Exp 1","t":0,"v":0},{"c":"pos","e":"Exp 1","t":1,"v":-0.023},{"c":"pos","e":"Exp 1","t":2,"v":-0.053},{"c":"pos","e":"Exp 1","t":3,"v":-0.083},{"c":"pos","e":"Exp 1","t":4,"v":-0.098},{"c":"pos","e":"Exp 1","t":5,"v":-0.1},{"c":"pos","e":"Exp 1","t":6,"v":-0.09},{"c":"pos","e":"Exp 1","t":7,"v":-0.045},{"c":"pos","e":"Exp 1","t":8,"v":0.045},{"c":"pos","e":"Exp 1","t":9,"v":0.12},{"c":"pos","e":"Exp 1","t":10,"v":0.166},{"c":"pos","e":"Exp 1","t":11,"v":0.196},{"c":"pos","e":"Exp 1","t":12,"v":0.199},{"c":"pos","e":"Exp 1","t":13,"v":0.21},{"c":"pos","e":"Exp 1","t":14,"v":0.214},{"c":"pos","e":"Exp 1","t":15,"v":0.203},{"c":"pos","e":"Exp 1","t":16,"v":0.169},{"c":"pos","e":"Exp 1","t":17,"v":0.143},{"c":"pos","e":"Exp 1","t":18,"v":0.136},{"c":"pos","e":"Exp 1","t":19,"v":0.146},{"c":"pos","e":"Exp 1","t":20,"v":0.15},{"c":"pos","e":"Exp 1","t":21,"v":0.14},{"c":"pos","e":"Exp 1","t":22,"v":0.123},{"c":"pos","e":"Exp 1","t":23,"v":0.105},{"c":"pos","e":"Exp 1","t":24,"v":0.093},{"c":"pos","e":"Exp 1","t":25,"v":0.087},{"c":"pos","e":"Exp 1","t":26,"v":0.093},{"c":"pos","e":"Exp 1","t":27,"v":0.098},{"c":"pos","e":"Exp 1","t":28,"v":0.1},{"c":"pos","e":"Exp 1","t":29,"v":0.09},{"c":"pos","e":"Exp 1","t":30,"v":0.075},{"c":"pos","e":"Exp 1","t":31,"v":0.093},{"c":"pos","e":"Exp 1","t":32,"v":0.12},{"c":"pos","e":"Exp 1","t":33,"v":0.136},{"c":"pos","e":"Exp 1","t":34,"v":0.143},{"c":"pos","e":"Exp 1","t":35,"v":0.146},{"c":"pos","e":"Exp 1","t":36,"v":0.143},{"c":"pos","e":"Exp 1","t":37,"v":0.136},{"c":"pos","e":"Exp 1","t":38,"v":0.125},{"c":"pos","e":"Exp 1","t":39,"v":0.113},{"c":"pos","e":"Exp 1","t":40,"v":0.102},
{"c":"neg","e":"Exp 4","t":-5,"v":-0.105},{"c":"neg","e":"Exp 4","t":-4,"v":-0.09},{"c":"neg","e":"Exp 4","t":-3,"v":-0.068},{"c":"neg","e":"Exp 4","t":-2,"v":-0.045},{"c":"neg","e":"Exp 4","t":-1,"v":-0.015},{"c":"neg","e":"Exp 4","t":0,"v":0},{"c":"neg","e":"Exp 4","t":1,"v":0.008},{"c":"neg","e":"Exp 4","t":2,"v":-0.03},{"c":"neg","e":"Exp 4","t":3,"v":-0.06},{"c":"neg","e":"Exp 4","t":4,"v":-0.072},{"c":"neg","e":"Exp 4","t":5,"v":-0.078},{"c":"neg","e":"Exp 4","t":6,"v":-0.075},{"c":"neg","e":"Exp 4","t":7,"v":-0.06},{"c":"neg","e":"Exp 4","t":8,"v":-0.038},{"c":"neg","e":"Exp 4","t":9,"v":-0.023},{"c":"neg","e":"Exp 4","t":10,"v":-0.01},{"c":"neg","e":"Exp 4","t":11,"v":0.012},{"c":"neg","e":"Exp 4","t":12,"v":0.023},{"c":"neg","e":"Exp 4","t":13,"v":0.038},{"c":"neg","e":"Exp 4","t":14,"v":0.05},{"c":"neg","e":"Exp 4","t":15,"v":0.038},{"c":"neg","e":"Exp 4","t":16,"v":0.012},{"c":"neg","e":"Exp 4","t":17,"v":0.008},{"c":"neg","e":"Exp 4","t":18,"v":0.008},{"c":"neg","e":"Exp 4","t":20,"v":-0.003},{"c":"neg","e":"Exp 4","t":22,"v":0.008},{"c":"neg","e":"Exp 4","t":23,"v":0.018},{"c":"neg","e":"Exp 4","t":24,"v":0.018},{"c":"neg","e":"Exp 4","t":25,"v":0.012},{"c":"neg","e":"Exp 4","t":26,"v":0},{"c":"neg","e":"Exp 4","t":27,"v":-0.003},{"c":"neg","e":"Exp 4","t":28,"v":0},{"c":"neg","e":"Exp 4","t":29,"v":-0.018},{"c":"neg","e":"Exp 4","t":30,"v":-0.038},{"c":"neg","e":"Exp 4","t":31,"v":-0.048},{"c":"neg","e":"Exp 4","t":32,"v":-0.038},{"c":"neg","e":"Exp 4","t":33,"v":-0.023},{"c":"neg","e":"Exp 4","t":34,"v":-0.018},{"c":"neg","e":"Exp 4","t":35,"v":-0.008},{"c":"neg","e":"Exp 4","t":36,"v":0},{"c":"neg","e":"Exp 4","t":37,"v":0.008},{"c":"neg","e":"Exp 4","t":38,"v":0.027},{"c":"neg","e":"Exp 4","t":39,"v":0.057},{"c":"neg","e":"Exp 4","t":40,"v":0.09},
{"c":"pos","e":"Exp 4","t":-5,"v":-0.117},{"c":"pos","e":"Exp 4","t":-4,"v":-0.105},{"c":"pos","e":"Exp 4","t":-3,"v":-0.083},{"c":"pos","e":"Exp 4","t":-2,"v":-0.056},{"c":"pos","e":"Exp 4","t":-1,"v":-0.027},{"c":"pos","e":"Exp 4","t":0,"v":-0.003},{"c":"pos","e":"Exp 4","t":1,"v":-0.008},{"c":"pos","e":"Exp 4","t":2,"v":-0.045},{"c":"pos","e":"Exp 4","t":3,"v":-0.078},{"c":"pos","e":"Exp 4","t":4,"v":-0.098},{"c":"pos","e":"Exp 4","t":5,"v":-0.105},{"c":"pos","e":"Exp 4","t":7,"v":-0.105},{"c":"pos","e":"Exp 4","t":8,"v":-0.113},{"c":"pos","e":"Exp 4","t":9,"v":-0.12},{"c":"pos","e":"Exp 4","t":10,"v":-0.128},{"c":"pos","e":"Exp 4","t":11,"v":-0.113},{"c":"pos","e":"Exp 4","t":12,"v":-0.087},{"c":"pos","e":"Exp 4","t":13,"v":-0.068},{"c":"pos","e":"Exp 4","t":14,"v":-0.053},{"c":"pos","e":"Exp 4","t":15,"v":-0.03},{"c":"pos","e":"Exp 4","t":16,"v":0.008},{"c":"pos","e":"Exp 4","t":17,"v":0.038},{"c":"pos","e":"Exp 4","t":18,"v":0.06},{"c":"pos","e":"Exp 4","t":19,"v":0.068},{"c":"pos","e":"Exp 4","t":20,"v":0.06},{"c":"pos","e":"Exp 4","t":21,"v":0.042},{"c":"pos","e":"Exp 4","t":22,"v":0.018},{"c":"pos","e":"Exp 4","t":23,"v":0.03},{"c":"pos","e":"Exp 4","t":24,"v":0.045},{"c":"pos","e":"Exp 4","t":25,"v":0.05},{"c":"pos","e":"Exp 4","t":26,"v":0.045},{"c":"pos","e":"Exp 4","t":27,"v":0.042},{"c":"pos","e":"Exp 4","t":28,"v":0.015},{"c":"pos","e":"Exp 4","t":29,"v":-0.015},{"c":"pos","e":"Exp 4","t":30,"v":-0.045},{"c":"pos","e":"Exp 4","t":31,"v":-0.06},{"c":"pos","e":"Exp 4","t":32,"v":-0.068},{"c":"pos","e":"Exp 4","t":33,"v":-0.078},{"c":"pos","e":"Exp 4","t":34,"v":-0.083},{"c":"pos","e":"Exp 4","t":35,"v":-0.078},{"c":"pos","e":"Exp 4","t":36,"v":-0.068},{"c":"pos","e":"Exp 4","t":37,"v":-0.045},{"c":"pos","e":"Exp 4","t":38,"v":-0.023},{"c":"pos","e":"Exp 4","t":39,"v":0.003},{"c":"pos","e":"Exp 4","t":40,"v":0.033}],
"ra4":[
{"c":"neg","e":"Exp 1","t":-5,"v":-0.01},{"c":"neg","e":"Exp 1","t":-3,"v":-0.007},{"c":"neg","e":"Exp 1","t":-1,"v":-0.003},{"c":"neg","e":"Exp 1","t":0,"v":0.002},{"c":"neg","e":"Exp 1","t":1,"v":0.008},{"c":"neg","e":"Exp 1","t":2,"v":0.017},{"c":"neg","e":"Exp 1","t":3,"v":0.029},{"c":"neg","e":"Exp 1","t":4,"v":0.041},{"c":"neg","e":"Exp 1","t":5,"v":0.049},{"c":"neg","e":"Exp 1","t":6,"v":0.052},{"c":"neg","e":"Exp 1","t":7,"v":0.053},{"c":"neg","e":"Exp 1","t":8,"v":0.053},{"c":"neg","e":"Exp 1","t":9,"v":0.047},{"c":"neg","e":"Exp 1","t":10,"v":0.039},{"c":"neg","e":"Exp 1","t":11,"v":0.031},{"c":"neg","e":"Exp 1","t":12,"v":0.025},{"c":"neg","e":"Exp 1","t":13,"v":0.023},{"c":"neg","e":"Exp 1","t":16,"v":0.022},{"c":"neg","e":"Exp 1","t":17,"v":0.02},{"c":"neg","e":"Exp 1","t":18,"v":0.014},{"c":"neg","e":"Exp 1","t":19,"v":0.009},{"c":"neg","e":"Exp 1","t":20,"v":0.009},{"c":"neg","e":"Exp 1","t":21,"v":0.012},{"c":"neg","e":"Exp 1","t":23,"v":0.016},{"c":"neg","e":"Exp 1","t":25,"v":0.02},{"c":"neg","e":"Exp 1","t":27,"v":0.021},{"c":"neg","e":"Exp 1","t":29,"v":0.025},{"c":"neg","e":"Exp 1","t":30,"v":0.024},{"c":"neg","e":"Exp 1","t":31,"v":0.025},{"c":"neg","e":"Exp 1","t":32,"v":0.029},{"c":"neg","e":"Exp 1","t":34,"v":0.033},{"c":"neg","e":"Exp 1","t":35,"v":0.032},{"c":"neg","e":"Exp 1","t":36,"v":0.029},{"c":"neg","e":"Exp 1","t":37,"v":0.025},{"c":"neg","e":"Exp 1","t":38,"v":0.021},{"c":"neg","e":"Exp 1","t":40,"v":0.02},
{"c":"neut","e":"Exp 1","t":-5,"v":0.008},{"c":"neut","e":"Exp 1","t":-4,"v":0.005},{"c":"neut","e":"Exp 1","t":-3,"v":0.002},{"c":"neut","e":"Exp 1","t":-1,"v":0.003},{"c":"neut","e":"Exp 1","t":0,"v":0.002},{"c":"neut","e":"Exp 1","t":1,"v":-0.001},{"c":"neut","e":"Exp 1","t":2,"v":-0.009},{"c":"neut","e":"Exp 1","t":3,"v":-0.012},{"c":"neut","e":"Exp 1","t":4,"v":-0.001},{"c":"neut","e":"Exp 1","t":5,"v":0.017},{"c":"neut","e":"Exp 1","t":6,"v":0.035},{"c":"neut","e":"Exp 1","t":7,"v":0.044},{"c":"neut","e":"Exp 1","t":8,"v":0.045},{"c":"neut","e":"Exp 1","t":9,"v":0.043},{"c":"neut","e":"Exp 1","t":10,"v":0.039},{"c":"neut","e":"Exp 1","t":11,"v":0.035},{"c":"neut","e":"Exp 1","t":12,"v":0.029},{"c":"neut","e":"Exp 1","t":13,"v":0.026},{"c":"neut","e":"Exp 1","t":14,"v":0.025},{"c":"neut","e":"Exp 1","t":15,"v":0.029},{"c":"neut","e":"Exp 1","t":16,"v":0.038},{"c":"neut","e":"Exp 1","t":17,"v":0.044},{"c":"neut","e":"Exp 1","t":18,"v":0.05},{"c":"neut","e":"Exp 1","t":19,"v":0.058},{"c":"neut","e":"Exp 1","t":20,"v":0.061},{"c":"neut","e":"Exp 1","t":21,"v":0.058},{"c":"neut","e":"Exp 1","t":22,"v":0.05},{"c":"neut","e":"Exp 1","t":23,"v":0.043},{"c":"neut","e":"Exp 1","t":24,"v":0.037},{"c":"neut","e":"Exp 1","t":25,"v":0.029},{"c":"neut","e":"Exp 1","t":28,"v":0.029},{"c":"neut","e":"Exp 1","t":29,"v":0.027},{"c":"neut","e":"Exp 1","t":30,"v":0.024},{"c":"neut","e":"Exp 1","t":32,"v":0.023},{"c":"neut","e":"Exp 1","t":33,"v":0.026},{"c":"neut","e":"Exp 1","t":34,"v":0.021},{"c":"neut","e":"Exp 1","t":35,"v":0.014},{"c":"neut","e":"Exp 1","t":36,"v":0.008},{"c":"neut","e":"Exp 1","t":37,"v":0.005},{"c":"neut","e":"Exp 1","t":38,"v":0.002},{"c":"neut","e":"Exp 1","t":39,"v":-0.003},{"c":"neut","e":"Exp 1","t":40,"v":-0.004},
{"c":"pos","e":"Exp 1","t":-5,"v":0.013},{"c":"pos","e":"Exp 1","t":-3,"v":0.015},{"c":"pos","e":"Exp 1","t":-2,"v":0.012},{"c":"pos","e":"Exp 1","t":-1,"v":0.005},{"c":"pos","e":"Exp 1","t":0,"v":0.002},{"c":"pos","e":"Exp 1","t":1,"v":0.002},{"c":"pos","e":"Exp 1","t":2,"v":0.005},{"c":"pos","e":"Exp 1","t":3,"v":0.011},{"c":"pos","e":"Exp 1","t":4,"v":0.023},{"c":"pos","e":"Exp 1","t":5,"v":0.033},{"c":"pos","e":"Exp 1","t":6,"v":0.039},{"c":"pos","e":"Exp 1","t":7,"v":0.038},{"c":"pos","e":"Exp 1","t":8,"v":0.035},{"c":"pos","e":"Exp 1","t":9,"v":0.031},{"c":"pos","e":"Exp 1","t":10,"v":0.025},{"c":"pos","e":"Exp 1","t":11,"v":0.02},{"c":"pos","e":"Exp 1","t":12,"v":0.014},{"c":"pos","e":"Exp 1","t":13,"v":0.009},{"c":"pos","e":"Exp 1","t":14,"v":0.005},{"c":"pos","e":"Exp 1","t":15,"v":0.001},{"c":"pos","e":"Exp 1","t":16,"v":-0.004},{"c":"pos","e":"Exp 1","t":17,"v":-0.009},{"c":"pos","e":"Exp 1","t":18,"v":-0.012},{"c":"pos","e":"Exp 1","t":19,"v":-0.009},{"c":"pos","e":"Exp 1","t":20,"v":-0.007},{"c":"pos","e":"Exp 1","t":21,"v":-0.004},{"c":"pos","e":"Exp 1","t":22,"v":-0.007},{"c":"pos","e":"Exp 1","t":23,"v":-0.01},{"c":"pos","e":"Exp 1","t":24,"v":-0.009},{"c":"pos","e":"Exp 1","t":26,"v":-0.004},{"c":"pos","e":"Exp 1","t":28,"v":-0.001},{"c":"pos","e":"Exp 1","t":30,"v":0},{"c":"pos","e":"Exp 1","t":32,"v":0.005},{"c":"pos","e":"Exp 1","t":34,"v":0.008},{"c":"pos","e":"Exp 1","t":36,"v":0.01},{"c":"pos","e":"Exp 1","t":38,"v":0.008},{"c":"pos","e":"Exp 1","t":40,"v":0.003},
{"c":"neg","e":"Exp 4","t":-5,"v":0.035},{"c":"neg","e":"Exp 4","t":-4,"v":0.029},{"c":"neg","e":"Exp 4","t":-3,"v":0.02},{"c":"neg","e":"Exp 4","t":-2,"v":0.014},{"c":"neg","e":"Exp 4","t":-1,"v":0.009},{"c":"neg","e":"Exp 4","t":0,"v":0.003},{"c":"neg","e":"Exp 4","t":1,"v":-0.001},{"c":"neg","e":"Exp 4","t":2,"v":-0.004},{"c":"neg","e":"Exp 4","t":3,"v":-0.009},{"c":"neg","e":"Exp 4","t":4,"v":-0.003},{"c":"neg","e":"Exp 4","t":6,"v":-0.001},{"c":"neg","e":"Exp 4","t":7,"v":0.002},{"c":"neg","e":"Exp 4","t":8,"v":0.005},{"c":"neg","e":"Exp 4","t":9,"v":0.011},{"c":"neg","e":"Exp 4","t":10,"v":0.017},{"c":"neg","e":"Exp 4","t":11,"v":0.025},{"c":"neg","e":"Exp 4","t":12,"v":0.032},{"c":"neg","e":"Exp 4","t":13,"v":0.041},{"c":"neg","e":"Exp 4","t":14,"v":0.047},{"c":"neg","e":"Exp 4","t":15,"v":0.044},{"c":"neg","e":"Exp 4","t":16,"v":0.032},{"c":"neg","e":"Exp 4","t":17,"v":0.02},{"c":"neg","e":"Exp 4","t":18,"v":0.011},{"c":"neg","e":"Exp 4","t":19,"v":0.005},{"c":"neg","e":"Exp 4","t":20,"v":0.005},{"c":"neg","e":"Exp 4","t":21,"v":0.011},{"c":"neg","e":"Exp 4","t":22,"v":0.015},{"c":"neg","e":"Exp 4","t":24,"v":0.019},{"c":"neg","e":"Exp 4","t":25,"v":0.019},{"c":"neg","e":"Exp 4","t":26,"v":0.014},{"c":"neg","e":"Exp 4","t":28,"v":0.014},{"c":"neg","e":"Exp 4","t":30,"v":0.011},{"c":"neg","e":"Exp 4","t":31,"v":0.008},{"c":"neg","e":"Exp 4","t":32,"v":0.011},{"c":"neg","e":"Exp 4","t":34,"v":0.009},{"c":"neg","e":"Exp 4","t":35,"v":0.008},{"c":"neg","e":"Exp 4","t":36,"v":0.002},{"c":"neg","e":"Exp 4","t":37,"v":-0.004},{"c":"neg","e":"Exp 4","t":38,"v":-0.004},{"c":"neg","e":"Exp 4","t":39,"v":0.008},{"c":"neg","e":"Exp 4","t":40,"v":0.02},
{"c":"pos","e":"Exp 4","t":-5,"v":0.021},{"c":"pos","e":"Exp 4","t":-4,"v":0.017},{"c":"pos","e":"Exp 4","t":-3,"v":0.013},{"c":"pos","e":"Exp 4","t":-2,"v":0.009},{"c":"pos","e":"Exp 4","t":-1,"v":0.005},{"c":"pos","e":"Exp 4","t":0,"v":0.002},{"c":"pos","e":"Exp 4","t":1,"v":-0.003},{"c":"pos","e":"Exp 4","t":2,"v":-0.013},{"c":"pos","e":"Exp 4","t":3,"v":-0.016},{"c":"pos","e":"Exp 4","t":4,"v":0.008},{"c":"pos","e":"Exp 4","t":5,"v":0.05},{"c":"pos","e":"Exp 4","t":6,"v":0.072},{"c":"pos","e":"Exp 4","t":7,"v":0.085},{"c":"pos","e":"Exp 4","t":8,"v":0.088},{"c":"pos","e":"Exp 4","t":9,"v":0.082},{"c":"pos","e":"Exp 4","t":10,"v":0.075},{"c":"pos","e":"Exp 4","t":11,"v":0.07},{"c":"pos","e":"Exp 4","t":12,"v":0.065},{"c":"pos","e":"Exp 4","t":13,"v":0.061},{"c":"pos","e":"Exp 4","t":15,"v":0.059},{"c":"pos","e":"Exp 4","t":16,"v":0.068},{"c":"pos","e":"Exp 4","t":17,"v":0.079},{"c":"pos","e":"Exp 4","t":18,"v":0.078},{"c":"pos","e":"Exp 4","t":19,"v":0.075},{"c":"pos","e":"Exp 4","t":20,"v":0.072},{"c":"pos","e":"Exp 4","t":21,"v":0.076},{"c":"pos","e":"Exp 4","t":22,"v":0.074},{"c":"pos","e":"Exp 4","t":23,"v":0.082},{"c":"pos","e":"Exp 4","t":24,"v":0.081},{"c":"pos","e":"Exp 4","t":25,"v":0.068},{"c":"pos","e":"Exp 4","t":26,"v":0.056},{"c":"pos","e":"Exp 4","t":27,"v":0.041},{"c":"pos","e":"Exp 4","t":28,"v":0.029},{"c":"pos","e":"Exp 4","t":29,"v":0.023},{"c":"pos","e":"Exp 4","t":30,"v":0.02},{"c":"pos","e":"Exp 4","t":31,"v":0.017},{"c":"pos","e":"Exp 4","t":32,"v":0.011},{"c":"pos","e":"Exp 4","t":33,"v":0.007},{"c":"pos","e":"Exp 4","t":34,"v":0.008},{"c":"pos","e":"Exp 4","t":35,"v":0.011},{"c":"pos","e":"Exp 4","t":36,"v":0.017},{"c":"pos","e":"Exp 4","t":37,"v":0.027},{"c":"pos","e":"Exp 4","t":38,"v":0.038},{"c":"pos","e":"Exp 4","t":39,"v":0.047},{"c":"pos","e":"Exp 4","t":40,"v":0.052}],
"rfr4":[
{"c":"neg","e":"Exp 1","t":-5,"v":-0.0015},{"c":"neg","e":"Exp 1","t":-1,"v":-0.001},{"c":"neg","e":"Exp 1","t":0,"v":0},{"c":"neg","e":"Exp 1","t":1,"v":0.0015},{"c":"neg","e":"Exp 1","t":2,"v":0.0055},{"c":"neg","e":"Exp 1","t":3,"v":0.0106},{"c":"neg","e":"Exp 1","t":4,"v":0.0136},{"c":"neg","e":"Exp 1","t":5,"v":0.0145},{"c":"neg","e":"Exp 1","t":6,"v":0.0136},{"c":"neg","e":"Exp 1","t":7,"v":0.0124},{"c":"neg","e":"Exp 1","t":8,"v":0.0085},{"c":"neg","e":"Exp 1","t":9,"v":0.0055},{"c":"neg","e":"Exp 1","t":10,"v":0.0033},{"c":"neg","e":"Exp 1","t":11,"v":0.0024},{"c":"neg","e":"Exp 1","t":12,"v":0.0018},{"c":"neg","e":"Exp 1","t":14,"v":0.0015},{"c":"neg","e":"Exp 1","t":16,"v":0.0009},{"c":"neg","e":"Exp 1","t":18,"v":0},{"c":"neg","e":"Exp 1","t":20,"v":0.0003},{"c":"neg","e":"Exp 1","t":22,"v":0.0009},{"c":"neg","e":"Exp 1","t":32,"v":0.0009},{"c":"neg","e":"Exp 1","t":34,"v":0.0003},{"c":"neg","e":"Exp 1","t":38,"v":0.0003},{"c":"neg","e":"Exp 1","t":40,"v":0.0009},
{"c":"neut","e":"Exp 1","t":-5,"v":0.0009},{"c":"neut","e":"Exp 1","t":-3,"v":0.0009},{"c":"neut","e":"Exp 1","t":-1,"v":0.0003},{"c":"neut","e":"Exp 1","t":0,"v":0},{"c":"neut","e":"Exp 1","t":1,"v":0.0015},{"c":"neut","e":"Exp 1","t":2,"v":0.0055},{"c":"neut","e":"Exp 1","t":3,"v":0.0094},{"c":"neut","e":"Exp 1","t":4,"v":0.0115},{"c":"neut","e":"Exp 1","t":5,"v":0.012},{"c":"neut","e":"Exp 1","t":6,"v":0.0115},{"c":"neut","e":"Exp 1","t":7,"v":0.009},{"c":"neut","e":"Exp 1","t":8,"v":0.0064},{"c":"neut","e":"Exp 1","t":9,"v":0.004},{"c":"neut","e":"Exp 1","t":10,"v":0.0024},{"c":"neut","e":"Exp 1","t":11,"v":0.0009},{"c":"neut","e":"Exp 1","t":12,"v":0.0003},{"c":"neut","e":"Exp 1","t":13,"v":0.0003},{"c":"neut","e":"Exp 1","t":14,"v":0.0009},{"c":"neut","e":"Exp 1","t":15,"v":0.0015},{"c":"neut","e":"Exp 1","t":16,"v":0.0024},{"c":"neut","e":"Exp 1","t":17,"v":0.0033},{"c":"neut","e":"Exp 1","t":18,"v":0.004},{"c":"neut","e":"Exp 1","t":19,"v":0.0055},{"c":"neut","e":"Exp 1","t":20,"v":0.0064},{"c":"neut","e":"Exp 1","t":21,"v":0.0064},{"c":"neut","e":"Exp 1","t":22,"v":0.0055},{"c":"neut","e":"Exp 1","t":23,"v":0.004},{"c":"neut","e":"Exp 1","t":24,"v":0.0024},{"c":"neut","e":"Exp 1","t":25,"v":0.0018},{"c":"neut","e":"Exp 1","t":26,"v":0.0024},{"c":"neut","e":"Exp 1","t":28,"v":0.0024},{"c":"neut","e":"Exp 1","t":29,"v":0.0018},{"c":"neut","e":"Exp 1","t":30,"v":0.0015},{"c":"neut","e":"Exp 1","t":32,"v":0.0015},{"c":"neut","e":"Exp 1","t":34,"v":0.0003},{"c":"neut","e":"Exp 1","t":36,"v":0},{"c":"neut","e":"Exp 1","t":38,"v":-0.0009},{"c":"neut","e":"Exp 1","t":40,"v":-0.0012},
{"c":"pos","e":"Exp 1","t":-5,"v":-0.0027},{"c":"pos","e":"Exp 1","t":-4,"v":-0.002},{"c":"pos","e":"Exp 1","t":-3,"v":-0.0015},{"c":"pos","e":"Exp 1","t":-2,"v":-0.0009},{"c":"pos","e":"Exp 1","t":-1,"v":-0.0003},{"c":"pos","e":"Exp 1","t":0,"v":0},{"c":"pos","e":"Exp 1","t":1,"v":0.0015},{"c":"pos","e":"Exp 1","t":2,"v":0.0045},{"c":"pos","e":"Exp 1","t":3,"v":0.0085},{"c":"pos","e":"Exp 1","t":4,"v":0.0106},{"c":"pos","e":"Exp 1","t":5,"v":0.0112},{"c":"pos","e":"Exp 1","t":6,"v":0.01},{"c":"pos","e":"Exp 1","t":7,"v":0.007},{"c":"pos","e":"Exp 1","t":8,"v":0.004},{"c":"pos","e":"Exp 1","t":9,"v":0.0015},{"c":"pos","e":"Exp 1","t":10,"v":0.0003},{"c":"pos","e":"Exp 1","t":11,"v":-0.0006},{"c":"pos","e":"Exp 1","t":12,"v":-0.0015},{"c":"pos","e":"Exp 1","t":13,"v":-0.0027},{"c":"pos","e":"Exp 1","t":14,"v":-0.0036},{"c":"pos","e":"Exp 1","t":15,"v":-0.0045},{"c":"pos","e":"Exp 1","t":16,"v":-0.0058},{"c":"pos","e":"Exp 1","t":17,"v":-0.0067},{"c":"pos","e":"Exp 1","t":18,"v":-0.0076},{"c":"pos","e":"Exp 1","t":19,"v":-0.0082},{"c":"pos","e":"Exp 1","t":22,"v":-0.0082},{"c":"pos","e":"Exp 1","t":23,"v":-0.0073},{"c":"pos","e":"Exp 1","t":24,"v":-0.0061},{"c":"pos","e":"Exp 1","t":25,"v":-0.0052},{"c":"pos","e":"Exp 1","t":26,"v":-0.0045},{"c":"pos","e":"Exp 1","t":28,"v":-0.0036},{"c":"pos","e":"Exp 1","t":30,"v":-0.0033},{"c":"pos","e":"Exp 1","t":32,"v":-0.0027},{"c":"pos","e":"Exp 1","t":34,"v":-0.002},{"c":"pos","e":"Exp 1","t":40,"v":-0.002},
{"c":"neg","e":"Exp 4","t":-5,"v":0.0106},{"c":"neg","e":"Exp 4","t":-4,"v":0.01},{"c":"neg","e":"Exp 4","t":-3,"v":0.0085},{"c":"neg","e":"Exp 4","t":-2,"v":0.006},{"c":"neg","e":"Exp 4","t":-1,"v":0.0033},{"c":"neg","e":"Exp 4","t":0,"v":0.0009},{"c":"neg","e":"Exp 4","t":1,"v":-0.0015},{"c":"neg","e":"Exp 4","t":2,"v":-0.0006},{"c":"neg","e":"Exp 4","t":3,"v":0.007},{"c":"neg","e":"Exp 4","t":4,"v":0.0155},{"c":"neg","e":"Exp 4","t":5,"v":0.017},{"c":"neg","e":"Exp 4","t":6,"v":0.0155},{"c":"neg","e":"Exp 4","t":7,"v":0.0136},{"c":"neg","e":"Exp 4","t":8,"v":0.0115},{"c":"neg","e":"Exp 4","t":9,"v":0.0106},{"c":"neg","e":"Exp 4","t":10,"v":0.0115},{"c":"neg","e":"Exp 4","t":11,"v":0.0124},{"c":"neg","e":"Exp 4","t":12,"v":0.013},{"c":"neg","e":"Exp 4","t":13,"v":0.013},{"c":"neg","e":"Exp 4","t":14,"v":0.012},{"c":"neg","e":"Exp 4","t":15,"v":0.01},{"c":"neg","e":"Exp 4","t":16,"v":0.007},{"c":"neg","e":"Exp 4","t":17,"v":0.004},{"c":"neg","e":"Exp 4","t":18,"v":0.0009},{"c":"neg","e":"Exp 4","t":19,"v":-0.0006},{"c":"neg","e":"Exp 4","t":20,"v":0.0003},{"c":"neg","e":"Exp 4","t":22,"v":0.0009},{"c":"neg","e":"Exp 4","t":24,"v":0.0003},{"c":"neg","e":"Exp 4","t":26,"v":-0.0006},{"c":"neg","e":"Exp 4","t":28,"v":-0.002},{"c":"neg","e":"Exp 4","t":30,"v":-0.0036},{"c":"neg","e":"Exp 4","t":31,"v":-0.0045},{"c":"neg","e":"Exp 4","t":32,"v":-0.0052},{"c":"neg","e":"Exp 4","t":33,"v":-0.0045},{"c":"neg","e":"Exp 4","t":34,"v":-0.0036},{"c":"neg","e":"Exp 4","t":35,"v":-0.002},{"c":"neg","e":"Exp 4","t":36,"v":-0.0015},{"c":"neg","e":"Exp 4","t":38,"v":-0.0009},{"c":"neg","e":"Exp 4","t":40,"v":-0.0006},
{"c":"pos","e":"Exp 4","t":-5,"v":0.0085},{"c":"pos","e":"Exp 4","t":-4,"v":0.0064},{"c":"pos","e":"Exp 4","t":-3,"v":0.0045},{"c":"pos","e":"Exp 4","t":-2,"v":0.0024},{"c":"pos","e":"Exp 4","t":-1,"v":0.0009},{"c":"pos","e":"Exp 4","t":0,"v":0.0003},{"c":"pos","e":"Exp 4","t":1,"v":0.0009},{"c":"pos","e":"Exp 4","t":2,"v":0.0045},{"c":"pos","e":"Exp 4","t":3,"v":0.016},{"c":"pos","e":"Exp 4","t":4,"v":0.0288},{"c":"pos","e":"Exp 4","t":5,"v":0.0358},{"c":"pos","e":"Exp 4","t":6,"v":0.0403},{"c":"pos","e":"Exp 4","t":7,"v":0.0427},{"c":"pos","e":"Exp 4","t":8,"v":0.0409},{"c":"pos","e":"Exp 4","t":9,"v":0.0373},{"c":"pos","e":"Exp 4","t":10,"v":0.0327},{"c":"pos","e":"Exp 4","t":11,"v":0.0267},{"c":"pos","e":"Exp 4","t":12,"v":0.0206},{"c":"pos","e":"Exp 4","t":13,"v":0.0176},{"c":"pos","e":"Exp 4","t":14,"v":0.0155},{"c":"pos","e":"Exp 4","t":15,"v":0.0145},{"c":"pos","e":"Exp 4","t":16,"v":0.0136},{"c":"pos","e":"Exp 4","t":17,"v":0.0115},{"c":"pos","e":"Exp 4","t":18,"v":0.0091},{"c":"pos","e":"Exp 4","t":19,"v":0.0076},{"c":"pos","e":"Exp 4","t":20,"v":0.0085},{"c":"pos","e":"Exp 4","t":21,"v":0.01},{"c":"pos","e":"Exp 4","t":22,"v":0.0106},{"c":"pos","e":"Exp 4","t":23,"v":0.0115},{"c":"pos","e":"Exp 4","t":24,"v":0.0124},{"c":"pos","e":"Exp 4","t":25,"v":0.013},{"c":"pos","e":"Exp 4","t":26,"v":0.0136},{"c":"pos","e":"Exp 4","t":27,"v":0.013},{"c":"pos","e":"Exp 4","t":28,"v":0.0115},{"c":"pos","e":"Exp 4","t":29,"v":0.01},{"c":"pos","e":"Exp 4","t":30,"v":0.0085},{"c":"pos","e":"Exp 4","t":31,"v":0.0055},{"c":"pos","e":"Exp 4","t":32,"v":0.0024},{"c":"pos","e":"Exp 4","t":33,"v":0.0009},{"c":"pos","e":"Exp 4","t":34,"v":0},{"c":"pos","e":"Exp 4","t":35,"v":0.0003},{"c":"pos","e":"Exp 4","t":36,"v":0.0024},{"c":"pos","e":"Exp 4","t":37,"v":0.0055},{"c":"pos","e":"Exp 4","t":38,"v":0.0085},{"c":"pos","e":"Exp 4","t":39,"v":0.0115},{"c":"pos","e":"Exp 4","t":40,"v":0.0136}]
},
"concat":[
{"width":768,"height":220,"title":{"text":"RP"},"data":{"name":"rp1"},"mark":{"type":"line","color":"black"},
"encoding":{"x":{"field":"t","type":"quantitative","scale":{"domain":[-5,55],"nice":false,"zero":false},"axis":{"values":[-5,0,10,20,30,40],"title":"Time (s)","labelExpr":"'' + datum.value"}},
"y":{"field":"v","type":"quantitative","scale":{"domain":[-0.5,0.5],"nice":false},"axis":{"values":[-0.5,0,0.5],"title":"Time (s)","labelExpr":"'' + datum.value"}},
"strokeDash":{"field":"s","type":"nominal","scale":{"domain":["Visual detection"],"range":[[1,0]]},"legend":{"orient":"none","legendX":478,"legendY":173.5,"title":null,"symbolStrokeColor":"black"}}}},
{"width":582,"height":220,"title":{"text":"RA"},"data":{"name":"ra1"},"mark":{"type":"line","color":"black"},
"encoding":{"x":{"field":"t","type":"quantitative","scale":{"domain":[-5,40],"nice":false,"zero":false},"axis":{"values":[-5,0,10,20,30,40],"title":"Time (s)","labelExpr":"'' + datum.value"}},
"y":{"field":"v","type":"quantitative","scale":{"domain":[-0.2,0.2],"nice":false},"axis":{"values":[-0.2,0,0.2],"title":"a.u.","labelExpr":"'' + datum.value"}}}},
{"width":583,"height":220,"title":{"text":"RFR"},"data":{"name":"rfr1"},"mark":{"type":"line","color":"black"},
"encoding":{"x":{"field":"t","type":"quantitative","scale":{"domain":[-5,40],"nice":false,"zero":false},"axis":{"values":[-5,0,10,20,30,40],"title":"Time (s)","labelExpr":"'' + datum.value"}},
"y":{"field":"v","type":"quantitative","scale":{"domain":[-0.1,0.1],"nice":false},"axis":{"values":[-0.1,0,0.1],"title":"a.u.","labelExpr":"'' + datum.value"}}}},
{"width":768,"height":220,"data":{"name":"rp2"},"mark":{"type":"line"},
"encoding":{"x":{"field":"t","type":"quantitative","scale":{"domain":[-5,55],"nice":false,"zero":false},"axis":{"values":[-5,0,10,20,30,40],"title":"Time (s)","labelExpr":"'' + datum.value"}},
"y":{"field":"v","type":"quantitative","scale":{"domain":[-0.5,0.5],"nice":false},"axis":{"values":[-0.5,0,0.5],"title":"Time (s)","labelExpr":"'' + datum.value"}},
"color":{"field":"s","type":"nominal","scale":{"domain":["Shock","85 dB","65 dB"],"range":["#d9352f","#d9352f","black"]},"legend":{"orient":"none","legendX":622,"legendY":88.5,"title":null}},
"strokeDash":{"field":"s","type":"nominal","scale":{"domain":["Shock","85 dB","65 dB"],"range":[[1,0],[3,3],[3,3]]},"legend":{"orient":"none","legendX":622,"legendY":88.5,"title":null}}}},
{"width":582,"height":220,"data":{"name":"ra2"},"mark":{"type":"line"},
"encoding":{"x":{"field":"t","type":"quantitative","scale":{"domain":[-5,40],"nice":false,"zero":false},"axis":{"values":[-5,0,10,20,30,40],"title":"Time (s)","labelExpr":"'' + datum.value"}},
"y":{"field":"v","type":"quantitative","scale":{"domain":[-0.2,0.2],"nice":false},"axis":{"values":[-0.2,0,0.2],"title":"a.u.","labelExpr":"'' + datum.value"}},
"color":{"field":"s","type":"nominal","scale":{"domain":["Shock","85 dB","65 dB"],"range":["#d9352f","#d9352f","black"]},"legend":null},
"strokeDash":{"field":"s","type":"nominal","scale":{"domain":["Shock","85 dB","65 dB"],"range":[[1,0],[3,3],[3,3]]},"legend":null}}},
{"width":583,"height":220,"data":{"name":"rfr2"},"mark":{"type":"line"},
"encoding":{"x":{"field":"t","type":"quantitative","scale":{"domain":[-5,40],"nice":false,"zero":false},"axis":{"values":[-5,0,10,20,30,40],"title":"Time (s)","labelExpr":"'' + datum.value"}},
"y":{"field":"v","type":"quantitative","scale":{"domain":[-0.1,0.1],"nice":false},"axis":{"values":[-0.1,0,0.1],"title":"a.u.","labelExpr":"'' + datum.value"}},
"color":{"field":"s","type":"nominal","scale":{"domain":["Shock","85 dB","65 dB"],"range":["#d9352f","#d9352f","black"]},"legend":null},
"strokeDash":{"field":"s","type":"nominal","scale":{"domain":["Shock","85 dB","65 dB"],"range":[[1,0],[3,3],[3,3]]},"legend":null}}},
{"width":768,"height":220,"data":{"name":"rp3"},"mark":{"type":"line","color":"black"},
"encoding":{"x":{"field":"t","type":"quantitative","scale":{"domain":[-5,55],"nice":false,"zero":false},"axis":{"values":[-5,0,10,20,30,40],"title":"Time (s)","labelExpr":"'' + datum.value"}},
"y":{"field":"v","type":"quantitative","scale":{"domain":[-0.5,0.5],"nice":false},"axis":{"values":[-0.5,0,0.5],"title":"Time (s)","labelExpr":"'' + datum.value"}},
"strokeDash":{"field":"s","type":"nominal","scale":{"domain":["IAPS (Exp. 1)","IAPS (Exp. 4)"],"range":[[1,0],[3,3]]},"legend":{"orient":"none","legendX":512,"legendY":131,"title":null,"symbolStrokeColor":"black"}}}},
{"width":582,"height":220,"data":{"name":"ra3"},"mark":{"type":"line","color":"black"},
"encoding":{"x":{"field":"t","type":"quantitative","scale":{"domain":[-5,40],"nice":false,"zero":false},"axis":{"values":[-5,0,10,20,30,40],"title":"Time (s)","labelExpr":"'' + datum.value"}},
"y":{"field":"v","type":"quantitative","scale":{"domain":[-0.2,0.2],"nice":false},"axis":{"values":[-0.2,0,0.2],"title":"a.u.","labelExpr":"'' + datum.value"}},
"strokeDash":{"field":"s","type":"nominal","scale":{"domain":["IAPS (Exp. 1)","IAPS (Exp. 4)"],"range":[[1,0],[3,3]]},"legend":null}}},
{"width":583,"height":220,"data":{"name":"rfr3"},"mark":{"type":"line","color":"black"},
"encoding":{"x":{"field":"t","type":"quantitative","scale":{"domain":[-5,40],"nice":false,"zero":false},"axis":{"values":[-5,0,10,20,30,40],"title":"Time (s)","labelExpr":"'' + datum.value"}},
"y":{"field":"v","type":"quantitative","scale":{"domain":[-0.1,0.1],"nice":false},"axis":{"values":[-0.1,0,0.1],"title":"a.u.","labelExpr":"'' + datum.value"}},
"strokeDash":{"field":"s","type":"nominal","scale":{"domain":["IAPS (Exp. 1)","IAPS (Exp. 4)"],"range":[[1,0],[3,3]]},"legend":null}}},
{"width":768,"height":220,"data":{"name":"rp4"},"mark":{"type":"line"},
"encoding":{"x":{"field":"t","type":"quantitative","scale":{"domain":[-5,55],"nice":false,"zero":false},"axis":{"values":[-5,0,10,20,30,40],"title":"Time (s)","labelExpr":"'' + datum.value"}},
"y":{"field":"v","type":"quantitative","scale":{"domain":[-0.5,0.5],"nice":false},"axis":{"values":[-0.5,0,0.5],"title":"Time (s)","labelExpr":"'' + datum.value"}},
"color":{"field":"c","type":"nominal","scale":{"domain":["neg","neut","pos"],"range":["#d9352f","black","#35c435"]},"legend":{"orient":"none","legendX":627,"legendY":4,"title":null}},
"strokeDash":{"field":"e","type":"nominal","scale":{"domain":["Exp 1","Exp 4"],"range":[[1,0],[3,3]]},"legend":{"orient":"none","legendX":627,"legendY":129.5,"title":null,"symbolStrokeColor":"black"}}}},
{"width":582,"height":220,"data":{"name":"ra4"},"mark":{"type":"line"},
"encoding":{"x":{"field":"t","type":"quantitative","scale":{"domain":[-5,40],"nice":false,"zero":false},"axis":{"values":[-5,0,10,20,30,40],"title":"Time (s)","labelExpr":"'' + datum.value"}},
"y":{"field":"v","type":"quantitative","scale":{"domain":[-0.2,0.2],"nice":false},"axis":{"values":[-0.2,0,0.2],"title":"a.u.","labelExpr":"'' + datum.value"}},
"color":{"field":"c","type":"nominal","scale":{"domain":["neg","neut","pos"],"range":["#d9352f","black","#35c435"]},"legend":null},
"strokeDash":{"field":"e","type":"nominal","scale":{"domain":["Exp 1","Exp 4"],"range":[[1,0],[3,3]]},"legend":null}}},
{"width":583,"height":220,"data":{"name":"rfr4"},"mark":{"type":"line"},
"encoding":{"x":{"field":"t","type":"quantitative","scale":{"domain":[-5,40],"nice":false,"zero":false},"axis":{"values":[-5,0,10,20,30,40],"title":"Time (s)","labelExpr":"'' + datum.value"}},
"y":{"field":"v","type":"quantitative","scale":{"domain":[-0.1,0.1],"nice":false},"axis":{"values":[-0.1,0,0.1],"title":"a.u.","labelExpr":"'' + datum.value"}},
"color":{"field":"c","type":"nominal","scale":{"domain":["neg","neut","pos"],"range":["#d9352f","black","#35c435"]},"legend":null},
"strokeDash":{"field":"e","type":"nominal","scale":{"domain":["Exp 1","Exp 4"],"range":[[1,0],[3,3]]},"legend":null}}}
]
}
